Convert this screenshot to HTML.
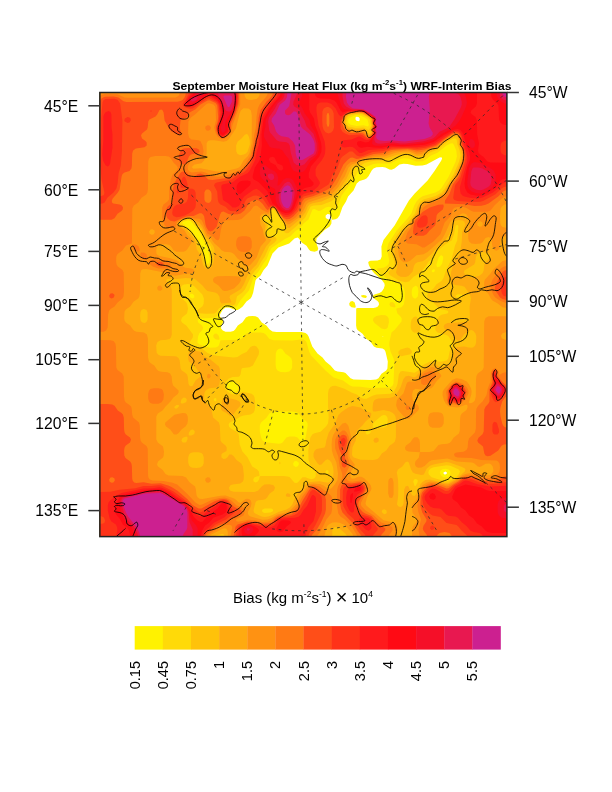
<!DOCTYPE html>
<html><head><meta charset="utf-8"><title>September Moisture Heat Flux WRF-Interim Bias</title>
<style>
html,body{margin:0;padding:0;background:#fff;}
body{width:612px;height:792px;overflow:hidden;}
svg{display:block;font-family:"Liberation Sans",sans-serif;fill:#000;}
</style></head><body>
<svg width="612" height="792" viewBox="0 0 612 792">
<rect width="612" height="792" fill="#fff"/>
<rect x="99.85" y="92.5" width="407.05" height="444.10" fill="#FF9212"/>
<defs><clipPath id="fc"><rect x="99.85" y="92.5" width="407.05" height="444.1"/></clipPath></defs>
<g clip-path="url(#fc)">
<rect x="90" y="85" width="430" height="460" fill="#fff"/>
<path fill="#FFF200" fill-rule="evenodd" d="M531.5,556.0L146.5,556.0L84.5,555.9L84.1,555.5L84.5,76.2L531.5,76.0L532.0,76.5L532.0,510.5L532.0,555.5L531.5,556.0ZM359.6,120.5L359.7,118.5L358.5,117.0L356.5,116.8L355.5,117.5L355.5,119.5L356.5,120.8L358.5,121.2L359.6,120.5ZM376.1,379.5L378.5,378.2L381.5,373.8L386.2,370.5L387.4,368.5L387.8,361.5L385.5,351.7L384.5,349.8L382.5,348.5L376.5,347.7L373.9,346.5L370.5,341.8L365.8,338.5L362.5,333.8L357.5,330.1L356.6,328.5L356.1,325.5L356.2,308.5L357.5,308.0L373.5,307.9L375.9,307.5L377.9,306.5L379.0,304.5L378.7,302.5L377.5,301.0L373.9,298.5L372.8,296.5L373.2,295.5L374.5,294.5L379.5,292.9L381.8,291.5L383.8,288.5L384.7,285.5L384.4,283.5L381.5,279.4L374.5,273.5L371.9,270.5L369.0,265.5L368.2,262.5L368.8,261.5L370.5,260.7L377.5,260.6L380.5,259.5L381.7,256.5L381.4,246.5L383.5,240.1L394.6,225.5L408.9,200.5L414.7,193.5L427.6,180.5L434.5,171.1L441.3,160.5L442.1,158.5L441.5,157.2L439.5,157.5L426.5,164.4L422.5,165.6L415.5,165.7L407.5,163.9L403.5,163.7L399.5,164.6L394.5,168.6L391.5,169.8L389.5,169.5L385.4,167.5L382.5,167.0L376.5,167.2L373.5,168.5L371.7,170.5L368.5,176.2L366.5,178.4L364.5,179.5L359.5,180.9L356.7,183.5L353.5,190.4L348.1,196.5L346.0,201.5L342.5,207.1L339.5,215.6L337.5,218.3L335.5,219.3L332.5,219.8L331.7,219.5L331.1,216.5L329.5,214.3L327.5,213.9L325.7,215.5L325.6,217.5L326.5,218.6L328.5,219.5L331.5,219.8L331.4,223.5L329.7,226.5L324.5,229.9L316.5,238.5L316.2,242.5L318.2,248.5L317.5,250.7L314.5,251.8L310.5,250.9L308.9,249.5L306.5,245.8L301.7,242.5L298.9,238.5L297.5,237.6L294.5,238.4L289.2,243.5L278.3,247.5L272.5,253.5L267.5,265.6L263.5,270.3L260.6,275.5L256.5,279.0L255.5,280.5L253.2,292.5L251.8,296.5L250.5,298.5L246.5,301.6L242.7,306.5L239.5,309.0L237.5,309.9L235.5,310.0L229.1,307.5L225.5,307.5L222.5,309.9L220.0,314.5L219.8,316.5L222.5,319.0L223.3,321.5L221.2,326.5L221.1,328.5L222.8,330.5L225.5,331.7L230.5,331.8L233.5,330.9L235.1,329.5L237.8,325.5L242.5,322.2L245.9,317.5L248.5,316.3L252.5,316.0L255.5,316.3L258.1,317.5L261.8,322.5L266.4,325.5L269.6,329.5L272.5,331.4L276.5,331.9L301.5,332.0L305.5,332.9L307.4,334.5L308.6,336.5L312.3,346.5L317.5,353.4L322.5,357.4L325.6,361.5L330.5,365.4L334.8,370.5L337.5,371.6L343.5,372.2L345.5,372.9L350.5,378.3L353.5,379.6L370.5,380.0L376.1,379.5ZM365.5,297.9L362.8,297.5L361.3,296.5L361.0,295.5L363.5,295.0L366.0,295.5L366.9,296.5L366.4,297.5L365.5,297.9ZM354.5,307.7L351.5,307.2L349.5,305.6L349.2,303.5L350.5,301.5L352.5,301.1L354.7,302.5L355.7,306.5L355.5,307.4L354.5,307.7ZM383.6,336.5L382.5,336.4L382.5,337.1L383.6,336.5ZM446.9,473.5L446.9,472.5L445.5,471.6L443.5,472.5L443.5,473.5L444.5,474.4L445.5,474.5L446.9,473.5Z"/>
<path fill="#FFDA08" fill-rule="evenodd" d="M531.5,555.9L219.5,555.6L146.5,556.0L84.5,555.9L84.1,555.5L84.5,76.3L531.5,76.0L532.0,76.5L532.0,510.5L531.9,555.5L531.5,555.9ZM367.6,126.5L368.5,126.0L368.8,124.5L367.5,119.5L364.7,117.5L360.0,115.5L357.5,115.1L354.9,115.5L350.1,117.5L348.3,119.5L348.2,122.5L350.5,124.7L356.5,126.0L363.5,125.3L367.6,126.5ZM390.0,387.5L392.5,385.8L393.5,383.5L394.3,362.5L393.6,358.5L390.5,351.5L389.3,345.5L389.3,342.5L391.5,332.6L395.0,329.5L401.5,321.5L401.7,318.5L400.5,316.6L397.4,313.5L396.4,309.5L396.5,308.5L401.5,307.2L403.8,304.5L404.8,298.5L404.9,292.5L403.9,288.5L402.4,286.5L398.1,283.5L386.5,278.2L378.1,271.5L377.1,269.5L377.3,268.5L383.5,267.8L386.5,266.3L388.5,264.3L389.3,260.5L387.0,249.5L388.4,243.5L396.7,230.5L407.5,218.6L411.4,213.5L414.2,205.5L416.5,201.5L419.5,198.3L422.5,196.3L435.5,192.6L439.1,190.5L441.5,187.9L448.5,177.0L455.5,162.0L456.9,156.5L456.3,150.5L453.7,144.5L452.5,143.3L450.5,143.4L446.5,145.5L437.5,152.7L430.9,155.5L425.5,159.7L422.5,161.2L416.5,161.6L408.5,158.5L403.5,158.3L398.2,159.5L390.5,163.5L377.5,163.5L373.5,164.0L359.1,169.5L354.8,177.5L341.5,195.7L336.5,208.8L334.5,209.5L330.5,207.1L328.5,206.7L325.7,207.5L320.5,210.8L318.5,210.9L314.5,209.1L312.5,209.5L308.5,219.5L303.5,223.5L299.6,228.5L295.5,231.1L290.5,236.2L284.5,239.3L271.5,248.0L269.5,251.6L266.5,259.5L263.5,263.3L258.5,271.6L253.4,277.5L249.0,290.5L240.5,300.2L236.7,306.5L234.5,307.1L228.5,305.6L224.5,306.0L220.3,309.5L216.6,316.5L215.5,317.3L211.5,318.0L200.5,318.5L198.5,319.2L197.6,320.5L198.2,322.5L202.0,325.5L203.0,327.5L202.7,329.5L199.2,333.5L198.1,336.5L197.4,342.5L199.5,344.5L209.5,347.7L215.5,347.6L217.5,346.8L218.8,345.5L220.5,340.2L239.5,339.8L242.5,338.0L246.3,333.5L250.5,332.4L260.5,332.5L263.5,333.1L265.8,334.5L269.5,338.9L273.5,340.3L292.5,340.4L300.5,339.4L303.5,339.5L305.5,340.8L306.5,342.3L309.1,351.5L311.1,355.5L325.5,370.6L333.5,377.5L343.1,380.5L349.5,385.2L352.5,386.4L360.5,386.8L369.5,388.1L390.0,387.5ZM208.6,263.5L209.5,262.1L209.8,259.5L207.9,249.5L199.7,232.5L191.2,221.5L188.5,220.3L183.9,221.5L182.5,222.5L182.4,223.5L190.4,229.5L198.8,240.5L204.1,252.5L206.5,262.8L207.5,263.8L208.6,263.5ZM440.1,266.5L442.2,263.5L443.2,258.5L443.1,256.5L441.5,255.3L440.5,255.5L438.7,257.5L436.4,264.5L436.7,266.5L437.5,267.2L440.1,266.5ZM434.6,271.5L434.9,270.5L434.5,269.3L432.8,269.5L431.9,270.5L431.8,271.5L432.5,272.3L433.5,272.3L434.6,271.5ZM415.7,298.5L417.8,296.5L418.4,291.5L417.8,287.5L416.5,286.0L415.5,285.8L412.9,287.5L412.0,289.5L411.7,292.5L412.0,295.5L413.0,297.5L414.5,298.6L415.7,298.5ZM192.7,298.5L194.2,297.5L194.3,295.5L192.5,293.7L190.5,293.8L189.5,295.4L189.7,296.5L190.5,297.7L192.7,298.5ZM394.5,307.6L390.5,306.4L389.4,304.5L390.0,302.5L392.5,302.1L394.5,303.5L395.6,306.5L394.5,307.6ZM386.5,328.8L384.5,329.2L381.5,328.6L374.5,323.0L373.0,320.5L373.3,318.5L374.1,317.5L376.5,316.1L381.5,315.0L385.5,315.3L387.5,316.4L388.7,318.5L388.9,322.5L387.7,327.5L386.5,328.8ZM218.5,339.7L215.5,339.2L213.5,337.6L213.2,335.5L214.5,333.7L216.5,333.6L218.6,335.5L219.5,338.5L219.2,339.5L218.5,339.7ZM289.2,371.5L291.3,369.5L292.1,367.5L292.2,361.5L291.4,358.5L289.5,356.5L285.5,353.7L282.5,349.5L280.5,348.6L278.5,348.9L276.8,350.5L275.8,353.5L275.6,364.5L276.2,368.5L277.5,370.6L280.5,372.1L285.5,372.3L289.2,371.5ZM236.8,391.5L238.5,388.5L237.6,385.5L235.5,383.0L233.5,381.7L231.5,381.4L229.5,382.0L227.5,383.6L226.6,385.5L227.5,387.4L233.5,391.6L235.5,392.0L236.8,391.5ZM280.7,443.5L282.6,442.5L286.4,437.5L289.5,436.6L294.5,436.6L297.5,437.4L301.5,441.9L303.5,442.0L304.5,441.0L306.0,435.5L307.7,425.5L307.6,423.5L306.5,421.4L302.3,418.5L299.5,414.5L297.5,412.6L295.5,411.9L291.5,411.6L275.5,411.6L271.5,412.2L269.3,413.5L266.5,417.8L261.0,422.5L259.8,425.5L259.8,431.5L261.1,437.5L262.5,440.6L265.5,442.3L278.5,443.7L280.7,443.5ZM297.5,466.5L298.9,464.5L298.6,462.5L296.5,460.9L294.5,461.3L293.1,463.5L293.5,465.5L295.5,466.9L297.5,466.5ZM447.3,477.5L449.0,476.5L450.3,474.5L450.5,472.5L449.9,470.5L448.5,469.4L445.5,468.8L442.5,469.3L440.6,470.5L439.8,472.5L441.0,475.5L443.5,477.3L447.3,477.5Z"/>
<path fill="#FFC20A" fill-rule="evenodd" d="M531.5,555.8L219.5,555.5L146.5,556.0L84.2,555.5L84.5,76.3L531.5,76.0L532.0,76.5L531.9,510.5L531.5,555.8ZM369.0,129.5L370.5,127.2L370.9,125.5L370.0,119.5L368.0,117.5L364.6,115.5L361.5,114.3L355.5,114.1L349.5,115.5L348.0,116.5L346.6,118.5L346.0,122.5L347.5,125.4L348.9,126.5L355.5,128.0L363.5,127.4L368.5,129.9L369.0,129.5ZM297.8,482.5L302.5,477.3L305.5,477.2L308.5,478.6L311.5,479.2L314.3,478.5L315.7,476.5L315.8,473.5L315.3,471.5L310.3,465.5L308.5,459.5L308.3,450.5L309.5,441.4L310.5,437.2L312.5,434.3L314.5,433.2L320.5,431.8L326.0,426.5L328.0,423.5L328.7,417.5L328.0,405.5L328.0,393.5L328.7,389.5L330.5,387.0L332.5,386.0L335.5,385.8L344.5,388.8L351.5,392.6L356.8,394.5L360.5,397.6L363.5,398.8L366.5,398.7L372.5,395.8L376.5,394.6L390.5,393.7L393.5,392.0L396.7,386.5L397.6,383.5L398.8,374.5L400.5,371.4L402.5,371.1L414.5,372.7L417.5,370.9L422.2,365.5L429.5,361.7L433.5,360.8L439.5,361.7L442.5,361.6L446.5,360.5L448.3,358.5L449.6,351.5L452.2,345.5L451.9,341.5L448.5,336.2L446.5,335.1L437.5,332.5L435.6,330.5L435.2,328.5L437.5,319.4L439.0,316.5L441.5,314.7L447.3,313.5L448.3,312.5L448.3,311.5L447.3,310.5L441.5,309.4L438.5,308.0L433.5,302.8L428.5,299.6L427.4,297.5L427.2,295.5L428.5,292.4L433.5,288.6L436.5,284.3L441.5,281.1L443.5,277.9L446.0,270.5L451.8,258.5L455.0,245.5L457.2,240.5L458.4,226.5L458.1,225.5L457.5,225.0L456.5,225.1L455.5,226.4L454.0,234.5L451.7,240.5L445.5,244.2L438.5,250.1L436.2,252.5L433.0,257.5L428.5,261.7L425.5,266.5L421.3,271.5L419.1,273.5L413.5,276.7L409.1,281.5L405.5,282.3L398.7,280.5L390.4,275.5L388.7,273.5L388.6,272.5L389.9,270.5L393.4,267.5L394.5,265.3L394.5,261.5L391.1,252.5L390.6,249.5L391.5,245.5L396.1,236.5L400.4,230.5L408.5,221.8L414.9,213.5L417.8,205.5L420.4,201.5L423.5,199.4L435.5,196.1L441.5,192.5L444.5,189.0L453.5,174.4L459.1,161.5L460.5,155.5L459.5,149.9L457.3,144.5L456.7,139.5L455.5,138.2L453.1,138.5L447.7,141.5L437.5,149.8L429.5,152.8L424.5,157.0L422.5,158.0L416.5,158.5L413.5,157.7L408.5,155.3L404.5,155.2L398.3,156.5L386.5,160.8L377.5,160.6L369.5,161.6L364.5,163.1L361.0,165.5L356.1,167.5L353.5,170.0L349.6,178.5L345.8,184.5L339.1,193.5L334.5,198.8L330.7,201.5L321.5,205.1L313.5,205.4L310.6,206.5L305.1,217.5L297.5,225.2L288.5,232.9L286.5,233.2L284.5,232.2L284.2,230.5L285.2,227.5L283.5,223.5L274.5,210.0L273.5,209.2L272.5,209.2L271.5,210.5L271.1,216.5L270.5,217.9L269.5,218.1L265.5,215.9L263.8,216.5L263.3,218.5L268.0,225.5L267.7,227.5L266.0,231.5L266.1,233.5L267.0,235.5L268.5,236.6L275.5,237.2L276.5,238.5L276.3,240.5L274.6,242.5L269.2,246.5L264.9,256.5L261.3,261.5L258.5,266.8L254.3,271.5L251.5,275.5L244.9,289.5L242.5,292.2L236.9,296.5L235.5,303.2L234.5,304.8L232.5,305.3L226.5,304.5L223.5,305.2L218.9,308.5L216.5,312.0L214.5,313.5L205.5,313.8L199.5,313.2L198.1,312.5L197.6,310.5L198.5,309.2L202.5,306.2L203.7,303.5L203.9,298.5L202.4,294.5L194.5,286.4L191.5,284.6L187.5,284.1L184.0,284.5L182.0,285.5L180.6,287.5L180.1,291.5L180.5,296.5L181.7,298.5L185.5,301.6L187.0,303.5L188.0,308.5L187.0,313.5L182.0,317.5L181.0,320.5L182.0,322.5L186.5,325.8L193.0,334.5L192.8,337.5L189.4,342.5L189.5,343.8L190.5,345.1L193.7,346.5L202.5,349.0L207.5,353.1L210.5,354.3L216.5,355.8L233.5,357.4L237.5,357.1L241.5,354.2L246.5,351.9L250.5,347.1L252.5,345.9L254.5,345.7L256.5,346.5L258.6,349.5L259.1,351.5L258.7,354.5L252.9,365.5L249.5,367.3L242.5,367.9L241.5,368.9L240.5,374.5L239.5,376.3L238.5,376.8L232.5,377.1L228.5,378.8L225.5,382.1L224.2,385.5L224.5,387.5L225.5,389.2L228.6,392.5L231.5,394.3L236.5,394.7L242.5,391.8L251.5,393.8L253.5,395.3L254.5,397.3L255.1,401.5L255.0,407.5L254.6,410.5L253.5,412.7L250.5,414.6L243.5,415.6L240.5,416.6L235.5,419.8L229.7,422.5L228.6,424.5L229.0,426.5L230.5,428.3L237.8,432.5L238.7,434.5L239.7,444.5L242.4,451.5L247.5,457.3L252.2,466.5L257.1,469.5L258.9,471.5L259.5,475.9L256.5,476.4L254.3,477.5L253.2,479.5L253.6,481.5L255.5,482.6L257.5,481.8L259.1,479.5L259.7,476.5L260.5,476.1L283.5,476.0L287.5,476.4L289.5,477.1L294.5,482.7L296.5,483.0L297.8,482.5ZM207.8,266.5L209.8,265.5L211.7,261.5L211.4,249.5L210.7,246.5L205.5,240.0L200.5,229.9L193.2,221.5L190.5,219.7L188.5,219.1L183.2,220.5L180.5,222.5L179.8,223.5L180.0,224.5L184.5,226.6L188.3,229.5L196.1,239.5L202.5,253.8L204.7,263.5L205.8,265.5L207.8,266.5ZM461.8,297.5L462.9,296.5L462.9,295.5L461.5,294.5L457.5,294.3L455.7,295.5L455.7,296.5L456.8,297.5L459.5,297.9L461.8,297.5ZM417.5,332.7L414.5,332.7L412.5,331.6L411.2,329.5L410.7,327.5L410.8,322.5L411.5,319.7L413.5,317.2L415.5,316.4L416.5,316.7L418.0,318.5L420.7,327.5L420.3,330.5L419.5,331.6L417.5,332.7ZM404.5,355.5L401.5,356.2L399.7,355.5L398.4,353.5L398.5,351.4L400.5,349.5L405.5,347.9L407.5,347.6L409.5,348.3L411.5,350.5L411.9,352.5L411.5,353.2L409.5,354.4L404.5,355.5ZM216.5,400.5L216.3,398.5L215.5,397.9L214.1,398.5L213.7,399.5L214.5,401.1L215.5,401.4L216.5,400.5ZM384.1,427.5L386.0,426.5L387.4,424.5L387.8,419.5L387.4,417.5L386.5,416.0L385.5,415.3L383.5,415.0L381.5,415.8L374.5,421.8L373.2,423.5L372.5,426.5L372.8,427.5L374.5,427.8L384.1,427.5ZM367.8,434.5L369.5,433.8L370.6,432.5L371.4,429.5L370.5,428.7L367.5,429.4L365.6,431.5L365.8,433.5L366.5,434.2L367.8,434.5ZM280.5,463.8L279.5,464.2L279.2,463.5L279.5,461.4L280.4,462.5L280.5,463.8ZM448.5,481.5L456.5,476.7L458.7,474.5L460.1,471.5L458.8,469.5L450.5,465.8L446.5,465.2L433.5,467.2L430.5,468.6L428.8,470.5L428.3,472.5L428.8,474.5L431.5,477.2L445.3,481.5L448.5,481.5ZM328.0,473.5L328.6,472.5L328.5,471.1L327.5,470.1L326.5,470.3L325.5,471.5L325.5,472.9L326.5,474.0L328.0,473.5ZM415.9,485.5L417.5,482.6L417.8,480.5L417.1,479.5L415.5,479.1L414.1,479.5L413.2,481.5L414.5,485.7L415.5,486.1L415.9,485.5ZM270.5,512.5L272.5,511.5L273.1,510.5L273.0,509.5L271.3,508.5L264.5,508.5L262.5,509.5L262.0,510.5L262.5,512.0L264.5,513.1L270.5,512.5Z"/>
<path fill="#FFAA10" fill-rule="evenodd" d="M531.5,555.8L347.9,555.5L347.9,540.5L347.4,536.5L345.3,533.5L338.5,527.8L336.5,527.0L334.5,527.3L333.5,528.1L332.3,530.5L332.0,555.5L224.9,555.5L224.8,537.5L223.8,534.5L222.5,533.8L216.0,535.5L214.2,536.5L212.7,538.5L212.2,541.5L212.2,555.5L148.5,555.9L84.2,555.5L84.5,76.4L531.5,76.1L531.9,76.5L531.5,555.8ZM370.6,133.5L371.1,132.5L370.7,129.5L372.0,125.5L371.2,119.5L369.5,117.5L362.6,113.5L358.5,113.0L349.5,114.3L346.4,116.5L344.6,121.5L345.5,124.4L347.6,127.5L349.5,128.4L355.5,129.5L363.5,128.9L366.2,130.5L368.5,133.8L369.5,134.1L370.6,133.5ZM243.8,154.5L245.9,153.5L247.5,151.8L249.9,144.5L249.8,140.5L248.8,136.5L247.5,134.2L246.5,133.9L244.5,135.0L241.5,138.4L237.7,141.5L236.1,145.5L236.3,151.5L237.5,154.0L240.5,155.2L243.8,154.5ZM268.3,516.5L272.5,515.1L278.5,512.0L286.5,509.5L289.8,507.5L292.4,504.5L294.4,499.5L298.2,492.5L302.7,488.5L305.5,484.5L307.5,482.9L310.5,482.1L319.5,481.3L327.5,482.7L329.5,482.2L331.2,480.5L333.0,476.5L333.6,472.5L333.1,467.5L331.4,462.5L329.5,460.2L327.5,459.3L325.5,460.2L321.5,464.5L319.5,465.0L317.5,463.3L314.3,458.5L313.5,456.5L313.5,453.5L314.5,450.9L316.5,449.0L324.5,447.5L325.5,445.5L326.3,440.5L328.8,432.5L334.6,424.5L338.5,415.0L341.5,411.9L348.5,407.2L352.5,406.1L360.5,407.5L365.5,411.2L370.2,412.5L371.3,413.5L371.1,415.5L370.1,417.5L365.5,421.4L362.4,425.5L357.0,430.5L356.3,432.5L355.7,440.5L352.4,447.5L352.0,454.5L352.5,456.1L353.8,457.5L360.5,459.7L373.5,459.9L377.5,459.0L379.1,457.5L381.8,453.5L386.2,450.5L389.5,445.8L393.5,443.1L394.9,441.5L395.9,437.5L396.0,419.5L395.5,416.5L394.4,414.5L392.5,412.7L389.5,411.2L383.5,410.1L375.5,411.5L373.5,411.4L372.7,410.5L372.6,407.5L373.2,402.5L374.2,400.5L375.5,399.4L378.4,398.5L389.5,398.0L393.5,396.8L396.5,394.1L400.5,387.5L403.2,379.5L405.4,376.5L408.5,375.7L413.5,377.2L415.5,377.0L421.5,370.1L429.5,364.6L432.5,364.0L434.5,364.3L439.5,367.1L441.5,367.4L449.5,364.1L451.4,362.5L452.4,360.5L454.1,350.5L455.5,348.4L457.5,347.0L464.5,346.5L468.5,347.6L471.5,347.8L473.5,347.2L475.2,345.5L476.1,342.5L476.3,336.5L475.5,333.4L473.5,330.9L471.5,330.1L469.5,330.6L464.0,334.5L460.5,339.7L459.5,340.4L457.5,340.5L454.5,338.0L451.5,332.8L445.4,329.5L444.3,328.5L443.7,326.5L444.5,324.5L447.5,322.9L467.5,321.9L468.6,321.5L469.9,319.5L469.6,306.5L471.0,298.5L470.1,294.5L464.5,286.8L461.5,285.7L455.5,285.1L452.5,283.7L451.1,281.5L450.6,278.5L451.0,272.5L453.6,263.5L455.5,259.9L459.2,255.5L459.9,253.5L461.8,241.5L462.2,232.5L465.2,224.5L464.3,221.5L462.5,220.4L458.5,220.1L455.5,220.8L453.5,222.3L452.3,224.5L449.1,234.5L444.2,241.5L437.5,247.0L431.5,253.9L425.5,259.5L422.5,261.2L417.5,262.3L415.4,263.5L414.1,265.5L412.6,271.5L408.5,276.0L405.5,277.1L400.5,276.7L397.5,274.9L396.0,272.5L397.3,266.5L397.4,263.5L394.9,254.5L394.4,249.5L395.8,242.5L397.5,238.3L403.0,230.5L408.5,224.7L412.7,218.5L416.9,213.5L419.4,206.5L421.1,203.5L424.5,201.2L436.5,197.7L443.5,193.0L453.7,177.5L457.5,169.9L461.2,160.5L462.1,154.5L461.0,149.5L458.9,144.5L458.6,138.5L456.5,136.0L453.2,136.5L445.5,141.3L437.5,148.1L428.5,151.4L423.5,155.2L421.5,156.1L415.5,156.3L409.5,153.3L405.5,152.8L397.5,154.4L385.5,158.4L375.5,158.8L361.3,161.5L357.8,164.5L353.5,166.1L351.5,167.6L346.7,178.5L339.5,189.2L335.5,193.8L331.5,197.0L321.5,201.5L312.5,203.3L309.5,204.5L307.8,206.5L305.5,211.9L300.7,218.5L289.5,228.0L287.5,227.8L274.5,208.9L273.5,208.3L272.0,208.5L270.7,210.5L269.5,215.9L268.5,216.0L266.5,215.0L264.5,214.7L262.5,216.0L261.8,217.5L262.6,220.5L265.6,225.5L264.7,232.5L265.6,235.5L266.5,237.0L271.1,239.5L271.2,240.5L266.1,246.5L256.6,264.5L251.7,269.5L247.5,275.5L244.2,283.5L241.5,288.2L239.5,290.0L230.1,295.5L229.5,297.5L231.3,301.5L231.1,302.5L221.5,303.5L220.2,301.5L219.4,296.5L217.5,293.8L215.1,292.5L207.5,291.0L205.5,289.3L202.5,285.4L195.5,279.6L193.5,278.5L185.5,278.0L176.5,278.9L168.5,278.7L166.4,279.5L166.3,281.5L170.5,285.7L171.8,289.5L171.8,334.5L170.9,337.5L169.5,338.9L166.5,339.8L160.5,340.3L157.5,342.0L156.2,345.5L156.6,352.5L158.0,354.5L160.5,355.7L174.5,356.2L176.5,356.6L178.5,357.9L179.7,360.5L180.6,368.5L181.8,370.5L185.5,372.9L187.0,374.5L187.7,376.5L188.5,383.8L189.3,385.5L190.5,386.3L192.5,386.0L195.5,380.5L200.5,376.5L200.8,374.5L194.5,365.8L189.0,361.5L188.3,359.5L188.1,355.5L188.5,353.0L189.5,351.5L191.5,350.6L193.5,350.5L199.6,351.5L201.1,352.5L204.5,356.5L210.4,359.5L218.9,366.5L219.7,368.5L220.0,372.5L219.9,380.5L219.3,384.5L218.0,386.5L216.5,387.4L209.5,388.3L206.5,389.7L205.0,391.5L204.3,393.5L204.1,398.5L205.5,402.3L211.0,407.5L213.1,417.5L218.9,422.5L219.8,425.5L220.5,440.5L221.7,442.5L225.6,445.5L226.7,447.5L226.5,450.9L222.5,453.2L221.4,454.5L221.4,457.5L223.5,459.0L225.5,458.8L227.3,457.5L229.3,454.5L231.5,454.4L233.5,456.0L236.5,460.1L241.3,463.5L242.9,466.5L243.9,475.5L243.6,479.5L242.9,481.5L240.3,483.5L232.5,484.4L230.5,485.2L229.0,487.5L229.4,489.5L230.5,490.7L233.5,491.7L254.5,491.9L258.3,490.5L261.7,486.5L264.5,484.6L269.5,484.2L273.5,485.2L275.0,487.5L274.0,490.5L269.7,493.5L267.1,497.5L265.5,498.9L263.5,499.7L258.5,500.2L256.5,501.1L255.5,502.6L253.5,510.5L254.0,512.5L255.2,513.5L261.5,516.5L264.5,517.1L268.3,516.5ZM209.1,268.5L211.8,266.5L213.8,261.5L214.5,250.5L214.0,247.5L212.9,245.5L209.5,240.8L205.5,236.9L201.5,228.2L193.5,220.5L190.5,218.8L188.5,218.3L182.5,220.0L179.2,222.5L178.5,223.5L178.5,224.6L179.5,225.7L183.5,227.3L186.4,229.5L193.5,238.0L195.3,241.5L196.8,249.5L200.5,254.9L203.3,265.5L205.5,268.3L207.5,268.9L209.1,268.5ZM473.0,277.5L479.5,275.7L482.5,273.2L483.7,270.5L484.3,264.5L485.0,262.5L490.6,257.5L490.5,255.5L488.5,253.2L486.5,252.4L482.5,252.1L479.5,252.6L477.8,253.5L476.0,256.5L475.1,262.5L474.1,264.5L464.4,270.5L463.7,272.5L465.4,274.5L469.5,277.1L473.0,277.5ZM145.7,322.5L146.8,321.5L147.6,319.5L147.6,312.5L146.5,310.1L145.5,309.4L143.5,309.0L141.5,310.1L140.5,312.1L140.1,315.5L140.4,319.5L141.2,321.5L142.5,322.6L144.5,322.9L145.7,322.5ZM182.8,403.5L185.5,402.6L186.5,401.5L186.8,399.5L185.5,397.7L183.5,397.6L181.4,399.5L180.6,402.5L181.5,403.5L182.8,403.5ZM231.5,415.8L229.5,415.5L226.5,413.1L222.5,410.9L221.2,409.5L220.9,406.5L222.2,400.5L223.0,398.5L224.5,397.4L226.5,397.4L236.5,400.1L239.3,401.5L240.1,402.5L240.5,404.5L239.7,406.5L236.5,409.9L233.4,414.5L231.5,415.8ZM177.0,408.5L178.9,406.5L179.0,405.5L178.5,404.9L176.5,405.1L174.6,406.5L174.3,407.5L175.1,408.5L177.0,408.5ZM191.2,435.5L193.5,434.6L194.5,433.5L194.8,431.5L193.5,429.7L192.1,429.5L190.5,430.2L188.9,432.5L188.6,434.5L189.2,435.5L191.2,435.5ZM185.6,442.5L186.6,441.5L187.5,439.5L187.5,437.2L186.5,436.6L183.3,437.5L182.2,438.5L181.4,440.5L182.6,442.5L185.6,442.5ZM376.5,442.8L374.5,442.4L373.4,440.5L374.3,438.5L376.5,437.4L378.4,438.5L378.8,440.5L378.5,441.5L376.5,442.8ZM200.2,467.5L202.5,466.1L203.7,463.5L203.8,457.5L202.9,454.5L201.5,453.1L198.5,452.2L193.5,452.2L190.5,453.1L189.1,454.5L188.2,457.5L188.2,462.5L189.1,465.5L190.5,466.9L192.5,467.7L196.5,468.0L200.2,467.5ZM401.7,506.5L402.8,505.5L403.6,503.5L404.2,489.5L405.5,486.4L407.5,485.8L408.5,486.5L411.6,494.5L412.5,495.6L414.5,495.9L416.5,493.4L420.5,484.2L422.5,482.0L425.5,479.9L429.5,479.5L445.5,483.2L448.5,483.2L457.5,477.9L464.7,471.5L465.5,469.5L464.5,468.2L461.5,466.8L449.5,462.4L446.5,462.1L434.5,464.2L430.5,465.6L426.8,468.5L423.8,474.5L421.5,475.0L415.5,473.8L412.9,472.5L411.1,469.5L408.8,462.5L407.5,461.5L405.5,462.2L402.3,466.5L397.9,469.5L396.8,472.5L398.0,479.5L398.3,488.5L398.1,496.5L397.0,504.5L398.5,506.6L400.5,506.9L401.7,506.5ZM289.5,496.9L286.4,496.5L285.8,495.5L286.5,493.8L287.5,493.3L289.5,493.7L290.6,495.5L289.5,496.9ZM386.3,513.5L386.8,512.5L386.5,510.5L384.5,509.2L382.5,509.7L381.7,511.5L382.5,513.1L384.5,514.3L386.3,513.5Z"/>
<path fill="#FF9212" fill-rule="evenodd" d="M395.5,555.5L354.0,555.5L353.9,538.5L352.5,533.9L347.2,527.5L343.8,524.5L339.5,522.7L335.5,522.2L332.5,522.6L329.5,523.9L327.7,525.5L326.5,527.6L324.1,537.5L324.0,555.5L228.0,555.5L227.8,531.5L226.5,528.7L224.5,528.2L222.5,528.8L211.4,534.5L209.0,536.5L208.1,540.5L208.1,555.5L148.5,555.9L84.3,555.5L84.5,76.5L224.5,76.1L244.2,76.5L244.3,92.5L244.8,96.5L246.5,98.9L248.5,99.7L251.5,100.0L256.5,98.9L258.2,97.5L259.4,95.5L259.9,91.5L260.0,76.5L365.5,76.1L531.5,76.1L531.9,76.5L531.5,204.0L508.5,204.1L504.5,204.6L501.8,206.5L500.6,208.5L500.0,216.5L500.3,223.5L501.1,225.5L502.5,226.9L507.5,228.0L531.5,228.0L531.5,236.0L507.5,236.0L503.5,236.6L501.9,237.5L500.6,239.5L499.3,248.5L498.5,249.8L496.5,250.7L494.5,250.0L493.2,248.5L492.4,246.5L491.4,239.5L490.5,238.1L488.5,237.0L485.5,238.0L482.5,242.2L480.5,243.4L475.5,243.9L471.5,243.4L469.1,241.5L468.2,238.5L468.3,232.5L470.0,224.5L469.2,219.5L466.5,214.6L464.5,213.4L462.5,213.3L454.5,218.1L451.5,220.5L450.1,222.5L444.7,234.5L441.8,239.5L427.5,252.0L423.5,254.2L416.5,255.3L410.5,260.4L407.5,262.1L403.5,262.2L400.5,259.7L398.8,255.5L398.3,251.5L398.4,245.5L399.3,240.5L405.5,230.5L409.4,226.5L413.9,218.5L418.2,213.5L421.5,206.0L423.9,203.5L436.5,199.3L444.5,193.9L447.5,189.7L450.8,183.5L455.2,177.5L457.5,172.8L462.0,161.5L463.1,154.5L462.0,149.5L459.9,144.5L459.5,138.1L457.5,135.2L455.5,134.6L452.9,135.5L445.5,140.2L437.5,147.0L427.7,150.5L421.5,154.0L416.5,154.6L409.5,151.5L402.8,151.5L394.5,153.1L384.5,156.6L375.5,157.1L362.5,159.8L360.4,160.5L356.5,163.0L351.5,164.6L348.5,167.5L344.8,176.5L341.2,181.5L338.7,186.5L333.2,192.5L328.5,195.7L308.4,202.5L306.4,204.5L303.6,210.5L298.8,217.5L289.5,224.3L287.5,224.3L284.5,221.4L274.8,208.5L273.5,207.7L271.5,208.0L268.5,214.2L265.5,213.5L263.5,213.6L261.3,214.5L259.8,216.5L260.4,224.5L262.9,229.5L263.6,234.5L265.9,239.5L265.8,240.5L260.6,246.5L256.5,257.7L250.5,264.7L247.5,266.5L245.5,265.9L242.5,261.8L237.5,258.4L234.4,254.5L232.5,253.0L230.5,252.3L224.5,251.7L221.5,250.2L219.3,247.5L214.5,243.5L210.8,238.5L206.5,235.4L202.5,226.6L199.5,222.5L189.5,217.7L186.5,218.0L182.1,219.5L178.0,222.5L177.4,223.5L177.7,225.5L184.6,230.5L187.4,235.5L190.6,238.5L191.8,240.5L191.5,242.8L187.1,249.5L185.5,250.9L183.5,251.7L176.5,251.7L173.5,250.2L171.1,246.5L169.5,245.0L166.5,244.2L161.5,244.2L158.5,245.1L157.1,246.5L156.2,249.5L156.4,253.5L157.5,255.1L159.5,256.1L170.5,258.2L176.5,260.2L178.5,261.5L181.6,265.5L183.5,267.0L185.5,267.8L191.5,268.4L193.5,269.4L194.3,270.5L193.8,272.5L191.5,273.5L184.5,274.0L175.5,275.7L169.3,274.5L161.5,272.0L146.5,269.0L142.5,269.2L141.1,270.5L140.2,273.5L140.0,292.5L139.4,296.5L138.2,298.5L133.5,301.8L130.2,306.5L125.8,309.5L124.5,311.8L124.2,318.5L124.6,320.5L125.8,322.5L130.2,325.5L132.9,329.5L134.5,331.0L136.5,331.7L144.1,332.5L146.9,334.5L147.9,338.5L148.1,357.5L149.0,361.5L150.5,363.1L154.5,365.8L156.9,369.5L158.5,371.0L161.5,371.8L167.5,372.3L170.1,373.5L171.7,376.5L172.2,382.5L173.1,385.5L178.6,390.5L178.6,392.5L177.5,394.2L173.4,397.5L170.5,401.5L165.5,406.5L162.5,410.4L157.8,413.5L156.3,416.5L156.3,439.5L157.8,442.5L163.0,446.5L164.0,451.5L163.7,455.5L163.0,457.5L158.0,461.5L157.0,464.5L158.0,466.5L162.5,469.7L165.5,474.1L168.5,475.6L182.5,476.1L186.1,477.5L189.5,482.2L195.0,486.5L195.7,488.5L196.6,495.5L197.8,497.5L199.5,498.7L202.5,498.9L220.5,495.7L225.5,495.6L233.5,498.3L235.6,499.5L238.5,502.3L240.5,502.9L245.5,499.1L247.5,498.7L249.5,499.2L250.8,500.5L251.5,503.5L250.9,506.5L248.0,511.5L247.9,513.5L248.8,515.5L250.6,516.5L262.5,519.8L267.5,519.5L271.5,517.9L277.5,514.4L286.5,512.3L290.0,510.5L296.0,504.5L300.7,494.5L304.7,490.5L307.8,485.5L309.5,484.3L313.5,483.5L320.5,484.2L323.5,485.5L327.5,488.6L329.5,489.0L331.5,488.2L334.5,484.8L337.5,480.0L338.0,473.5L336.4,462.5L333.3,455.5L331.9,450.5L331.6,444.5L332.1,438.5L333.5,434.4L336.1,430.5L342.5,423.5L345.5,422.8L347.5,424.4L348.6,426.5L351.3,437.5L351.2,441.5L349.5,450.4L349.5,456.5L350.5,459.0L354.7,464.5L354.4,466.5L351.5,470.4L350.6,472.5L350.5,476.8L351.5,478.4L352.5,478.8L354.5,478.5L358.5,476.7L361.5,476.7L364.5,478.6L369.3,483.5L370.8,485.5L371.5,488.5L370.9,490.5L367.8,495.5L366.5,499.0L365.5,503.5L366.3,505.5L383.5,520.3L393.5,522.5L395.5,523.5L397.1,525.5L397.7,529.5L396.2,537.5L396.0,555.5L395.5,555.5ZM224.0,171.5L236.5,168.6L239.0,167.5L240.5,165.9L243.4,160.5L247.5,156.4L249.5,153.2L251.7,142.5L251.8,115.5L250.9,110.5L248.5,108.6L243.5,108.3L240.8,110.5L239.6,113.5L235.9,128.5L228.5,139.5L226.5,141.1L223.5,141.8L214.5,140.2L210.5,140.2L208.5,140.7L207.5,141.5L206.6,143.5L206.7,153.5L205.9,156.5L204.1,160.5L201.5,163.2L194.5,164.6L192.2,166.5L192.1,167.5L193.5,168.7L200.5,168.3L216.5,171.6L224.0,171.5ZM369.6,135.5L371.8,133.5L372.1,132.5L371.5,129.5L372.7,125.5L371.9,122.5L371.9,119.5L370.5,117.5L363.5,113.3L359.5,112.4L349.5,113.5L347.5,114.5L345.5,116.3L343.8,120.5L343.7,122.5L346.1,127.5L347.5,129.0L354.5,130.7L363.5,130.5L365.5,131.8L367.5,135.0L368.5,135.6L369.6,135.5ZM481.5,226.5L482.8,224.5L482.5,222.5L480.5,221.2L478.5,221.5L477.1,223.5L477.5,225.5L479.5,226.8L481.5,226.5ZM153.5,234.5L154.8,232.5L154.5,230.5L152.5,229.2L150.5,229.5L149.2,231.5L149.5,233.5L151.5,234.8L153.5,234.5ZM531.5,308.2L507.5,308.1L502.5,307.3L497.7,303.5L492.4,300.5L490.8,298.5L488.5,294.0L485.5,290.5L484.5,288.5L484.0,285.5L484.3,281.5L485.0,279.5L490.5,273.5L493.5,269.3L502.5,260.9L507.5,259.9L531.5,259.9L531.5,308.2ZM227.5,290.7L224.5,291.0L222.5,290.2L218.5,285.6L214.0,282.5L213.3,281.5L213.0,279.5L214.1,277.5L217.5,276.2L227.5,276.0L237.5,276.2L240.4,277.5L240.9,280.5L239.1,283.5L234.0,288.5L227.5,290.7ZM160.5,290.8L158.5,290.5L157.5,289.5L157.2,287.5L158.5,285.7L160.5,285.6L162.3,287.5L162.3,289.5L160.5,290.8ZM531.5,555.7L412.0,555.5L412.1,529.5L412.8,526.5L416.0,522.5L416.8,520.5L416.5,518.4L412.4,512.5L412.2,505.5L413.0,503.5L416.5,499.5L420.2,489.5L422.5,485.3L426.5,482.7L430.5,481.6L435.5,482.1L445.5,484.6L448.5,484.6L456.5,480.1L462.5,475.2L465.5,473.9L470.5,472.9L474.5,472.7L487.5,475.5L491.1,474.5L493.3,471.5L493.4,469.5L492.7,466.5L491.2,464.5L489.5,463.6L485.5,463.8L481.5,466.3L479.5,466.9L477.5,466.3L474.4,463.5L472.1,462.5L456.5,461.5L447.5,458.4L431.5,460.3L429.2,461.5L424.5,466.0L421.5,467.6L418.5,467.7L416.5,466.9L415.3,465.5L414.9,463.5L415.5,461.3L418.9,457.5L419.7,452.5L420.5,451.9L429.5,452.0L433.5,451.0L438.5,445.0L441.5,444.2L447.5,443.7L449.5,442.9L451.1,441.5L453.5,437.8L458.9,433.5L459.8,430.5L460.1,418.5L460.6,415.5L461.8,413.5L466.5,409.9L467.5,407.5L467.5,405.5L466.5,404.8L465.5,404.8L459.5,407.1L457.5,407.4L448.5,406.4L445.7,403.5L444.0,400.5L442.6,395.5L442.7,391.5L444.6,388.5L452.5,379.7L456.5,378.3L461.5,379.1L466.7,381.5L469.1,384.5L471.1,388.5L471.6,391.5L471.3,394.5L468.8,402.5L469.5,403.3L471.5,403.1L473.5,402.0L474.8,400.5L475.8,396.5L476.0,379.5L476.5,375.8L477.8,373.5L482.5,370.1L483.7,367.5L484.2,321.5L485.5,318.0L488.5,316.3L531.5,316.0L531.5,332.0L505.5,332.2L502.5,333.2L501.0,335.5L501.4,337.5L502.1,338.5L505.5,339.8L531.5,340.0L531.5,555.7ZM409.5,418.8L407.5,419.1L405.5,418.2L397.6,409.5L396.1,405.5L396.8,400.5L398.2,398.5L403.4,393.5L406.5,384.0L407.5,382.3L409.5,381.4L414.5,381.7L416.5,381.0L418.5,378.6L420.5,374.3L422.5,372.0L430.5,367.2L433.5,367.1L435.4,368.5L440.1,373.5L441.3,375.5L441.2,376.5L436.4,381.5L433.5,386.1L431.5,388.0L428.5,389.2L424.5,389.9L415.5,388.8L413.1,390.5L412.1,394.5L412.6,399.5L414.5,402.4L418.2,405.5L419.1,408.5L418.2,410.5L409.5,418.8ZM208.5,378.5L207.5,378.1L207.0,376.5L207.5,374.5L208.5,373.8L210.2,374.5L210.7,376.5L209.5,378.2L208.5,378.5ZM439.5,427.7L432.5,427.7L430.5,426.9L429.1,425.5L428.2,422.5L428.2,417.5L429.1,414.5L430.5,413.1L433.5,412.2L438.5,412.2L441.5,413.1L442.9,414.5L443.8,417.5L443.7,423.5L442.1,426.5L439.5,427.7ZM176.5,434.6L174.5,434.6L173.5,433.9L170.3,429.5L166.0,426.5L165.0,424.5L165.3,422.5L174.5,414.7L182.5,412.9L185.5,413.2L186.9,414.5L187.7,416.5L187.9,420.5L187.4,423.5L185.5,426.4L181.5,429.4L178.5,433.2L176.5,434.6ZM419.5,452.2L408.5,451.6L406.5,450.8L405.3,449.5L405.0,447.5L406.0,445.5L410.3,442.5L413.0,438.5L414.5,437.3L417.5,437.3L419.3,439.5L419.9,442.5L420.1,451.5L419.5,452.2ZM208.5,482.8L206.5,482.5L205.2,480.5L205.5,478.5L207.5,477.2L209.5,477.5L210.8,479.5L210.5,481.5L208.5,482.8ZM391.5,498.1L389.4,497.5L388.2,493.5L388.3,481.5L388.8,479.5L390.5,477.8L392.5,478.6L393.6,482.5L393.6,494.5L392.5,497.4L391.5,498.1Z"/>
<path fill="#FF7A14" fill-rule="evenodd" d="M103.5,331.7L84.5,332.0L84.5,100.0L94.5,99.8L96.5,99.0L101.5,95.0L104.5,94.1L108.5,93.9L117.5,94.2L124.5,97.4L127.5,97.8L175.5,97.6L178.5,96.1L179.7,93.5L179.9,76.5L240.2,76.5L240.2,104.5L232.5,124.9L231.1,132.5L226.5,137.4L224.5,138.9L221.5,139.1L217.7,136.5L215.8,133.5L214.2,127.5L216.0,120.5L215.7,109.5L215.2,106.5L213.5,104.5L209.5,103.3L207.5,103.6L205.9,104.5L195.0,114.5L190.9,117.5L188.4,121.5L188.1,133.5L189.1,137.5L191.5,139.4L198.5,140.3L200.5,141.3L202.5,145.5L203.6,151.5L202.9,154.5L200.5,157.0L193.5,158.4L191.5,159.6L187.6,166.5L187.9,169.5L189.5,171.4L191.5,172.6L201.5,171.4L205.3,172.5L213.5,176.3L218.5,176.8L226.5,175.5L241.0,169.5L242.9,167.5L250.0,156.5L252.7,146.5L254.3,134.5L255.7,128.5L256.6,116.5L257.8,108.5L259.6,104.5L266.4,96.5L267.7,93.5L267.9,76.5L531.8,76.5L531.5,196.0L508.5,196.1L504.5,196.8L501.9,198.5L494.4,205.5L490.5,210.4L487.5,211.7L473.5,211.8L471.5,211.1L466.5,208.0L463.5,207.1L457.5,207.1L454.5,207.8L452.7,209.5L451.4,214.5L450.5,216.2L444.6,222.5L440.5,234.0L433.4,241.5L424.5,247.5L422.5,247.5L416.5,244.2L407.5,243.4L405.4,241.5L405.4,238.5L407.4,232.5L411.1,227.5L414.4,219.5L418.8,214.5L423.5,207.2L427.5,204.5L438.5,200.0L444.5,195.8L447.3,192.5L452.0,183.5L457.1,176.5L462.9,161.5L463.9,155.5L462.8,149.5L460.7,144.5L460.4,138.5L458.5,134.9L456.5,133.7L454.5,133.9L452.5,134.8L444.5,140.0L436.5,146.6L421.5,151.9L416.5,152.5L411.0,150.5L407.5,150.0L395.5,151.0L391.5,151.8L384.5,154.7L374.5,155.6L361.5,159.0L355.5,161.4L350.5,162.2L346.8,165.5L336.8,184.5L331.5,190.3L327.1,193.5L308.5,199.6L305.5,201.2L303.9,203.5L301.6,209.5L298.5,214.2L295.6,217.5L291.5,220.3L289.5,221.3L287.5,221.5L284.5,220.0L279.5,214.3L275.5,208.5L273.5,207.2L271.1,207.5L268.5,211.9L267.5,212.4L261.6,209.5L257.5,206.1L255.5,205.6L253.5,206.6L250.5,210.7L241.5,219.1L237.5,220.0L226.5,220.3L223.9,221.5L222.5,223.7L220.7,230.5L219.5,238.5L218.5,240.0L217.5,240.3L215.9,239.5L213.0,236.5L207.4,233.5L202.4,221.5L201.5,220.1L199.5,218.8L194.5,218.5L188.5,216.9L183.5,218.2L181.5,219.0L176.7,222.5L175.5,227.3L174.5,227.8L168.5,227.7L166.5,227.0L164.8,225.5L163.1,221.5L162.2,217.5L162.2,207.5L163.5,204.5L167.5,201.5L169.0,199.5L169.2,189.5L170.8,179.5L172.7,174.5L177.5,169.5L177.9,167.5L176.6,165.5L173.4,162.5L170.5,157.8L168.5,156.6L165.5,156.1L155.5,156.0L150.5,157.1L149.1,158.5L148.2,161.5L148.0,188.5L147.4,192.5L146.2,194.5L141.5,197.8L138.2,202.5L133.8,205.5L132.3,208.5L131.9,243.5L126.0,245.5L122.3,250.5L117.5,253.9L116.3,256.5L116.1,261.5L116.6,264.5L117.8,266.5L122.5,269.9L123.7,272.5L124.0,291.5L123.5,296.4L122.4,298.5L117.6,302.5L114.5,306.4L110.5,308.9L109.1,310.5L108.1,314.5L107.7,327.5L106.1,330.5L103.5,331.7ZM369.5,136.5L371.5,134.9L372.7,132.5L372.0,129.5L373.3,125.5L372.4,122.5L372.6,119.5L371.2,117.5L363.5,112.7L359.5,112.0L349.5,113.0L345.3,115.5L343.3,119.5L342.8,122.5L344.9,127.5L346.5,129.6L348.5,130.9L352.5,131.8L363.5,132.1L367.5,136.4L369.5,136.5ZM208.5,130.8L206.5,130.5L205.2,128.5L205.5,126.5L207.5,125.2L209.5,125.5L210.9,127.5L210.5,129.5L208.5,130.8ZM247.5,251.7L243.5,251.9L240.5,251.4L238.5,250.2L237.1,248.5L236.1,245.5L236.2,241.5L237.1,238.5L238.5,237.1L241.5,236.2L246.5,236.2L249.5,237.1L250.9,238.5L251.8,241.5L251.7,247.5L250.0,250.5L247.5,251.7ZM138.5,251.6L135.5,251.2L133.5,249.8L132.5,247.5L132.4,244.5L135.5,244.5L138.5,246.2L139.5,248.5L139.6,250.5L138.5,251.6ZM146.5,259.6L143.5,259.2L141.5,257.8L140.4,254.5L140.9,252.5L144.5,252.8L146.5,254.3L147.6,258.5L146.5,259.6ZM165.5,268.6L158.5,268.6L152.7,266.5L149.1,263.5L148.6,260.5L154.5,259.4L159.5,259.2L163.5,259.9L167.3,261.5L170.2,263.5L171.4,266.5L170.5,267.7L165.5,268.6ZM531.5,302.8L505.5,302.7L500.5,301.1L495.3,297.5L493.5,295.0L490.9,289.5L490.7,284.5L492.6,279.5L500.8,268.5L503.5,266.7L506.5,266.1L531.5,266.0L531.5,302.8ZM176.5,270.7L175.5,271.3L174.5,270.9L173.6,269.5L175.5,269.4L176.5,270.7ZM315.5,555.5L230.5,555.5L230.7,536.5L232.2,527.5L231.5,525.4L229.5,524.8L224.5,525.2L221.5,526.2L207.5,534.9L206.3,538.5L206.2,555.5L84.5,555.6L84.5,340.0L110.5,340.2L113.5,341.1L115.4,343.5L116.0,347.5L116.3,367.5L117.5,370.1L122.2,373.5L123.7,376.5L124.0,396.5L124.6,400.5L125.8,402.5L129.5,404.9L131.0,406.5L131.7,408.5L132.2,414.5L133.1,417.5L139.0,422.5L139.8,425.5L140.1,437.5L140.6,440.5L141.8,442.5L146.5,445.9L147.7,448.5L148.1,475.5L148.4,477.5L149.7,479.5L152.5,480.6L163.5,480.9L172.5,482.8L177.2,484.5L186.9,493.5L195.4,502.5L199.5,504.9L201.5,504.7L212.5,499.8L219.5,498.1L224.5,497.6L228.5,498.7L231.4,500.5L236.6,505.5L243.1,507.5L244.2,508.5L244.6,512.5L243.5,515.4L237.5,518.4L236.3,519.5L236.0,520.5L236.5,521.2L238.5,521.7L248.5,519.7L254.5,520.3L262.5,521.9L267.5,521.8L271.5,520.4L275.5,517.0L278.5,515.4L289.5,513.2L291.5,512.0L297.5,506.3L302.4,496.5L306.3,491.5L309.5,486.3L311.5,485.3L313.5,485.0L319.5,486.5L329.8,494.5L331.6,496.5L332.2,499.5L332.1,509.5L331.2,513.5L326.5,519.3L321.1,530.5L316.8,536.5L316.1,540.5L316.1,555.5L315.5,555.5ZM531.5,555.7L420.0,555.5L419.9,538.5L418.5,529.5L421.1,519.5L418.2,511.5L417.5,505.5L420.1,493.5L422.5,488.7L424.3,486.5L427.5,484.3L431.5,483.1L438.5,484.1L446.5,486.4L448.5,486.2L457.5,480.9L462.5,476.7L466.5,475.3L472.5,475.2L482.5,477.9L490.5,478.1L493.5,477.2L496.5,475.5L498.5,473.5L499.5,471.5L500.0,467.5L499.5,463.6L498.2,461.5L496.5,460.5L481.5,459.9L471.5,457.9L457.5,457.5L454.9,456.5L454.0,454.5L454.5,453.5L456.3,452.5L463.5,451.8L466.5,450.1L467.7,447.5L468.1,441.5L469.0,438.5L474.9,432.5L475.9,428.5L476.0,412.5L476.5,408.5L478.4,405.5L482.5,401.5L486.5,395.2L487.8,388.5L490.5,381.5L490.8,372.5L492.5,369.5L494.5,368.2L496.5,368.8L498.2,370.5L499.5,375.0L502.5,373.0L505.5,372.2L531.5,372.0L531.5,555.7ZM426.5,384.7L423.5,385.1L421.2,383.5L421.0,380.5L421.8,376.5L423.0,374.5L424.5,373.3L430.5,370.9L432.5,370.9L435.5,373.8L436.1,375.5L435.7,377.5L432.5,381.0L426.5,384.7ZM459.5,405.1L457.5,405.3L453.5,404.3L449.5,405.0L447.8,403.5L446.7,400.5L446.8,396.5L446.2,392.5L446.6,390.5L451.5,383.9L455.5,381.6L458.5,381.9L463.5,384.0L466.9,387.5L468.4,390.5L468.4,393.5L466.1,398.5L459.5,405.1ZM158.5,403.7L152.5,403.7L150.5,402.9L149.1,401.5L148.2,398.5L148.2,393.5L149.1,390.5L150.5,389.1L153.5,388.2L158.5,388.2L161.5,389.1L162.9,390.5L163.9,394.5L163.4,399.5L161.5,402.2L158.5,403.7ZM409.5,409.5L407.5,410.1L406.4,409.5L405.5,407.5L406.5,405.8L407.6,405.5L409.6,406.5L410.1,408.5L409.5,409.5ZM387.5,555.5L357.9,555.5L357.8,539.5L356.6,534.5L351.8,526.5L345.0,519.5L340.5,516.5L338.3,513.5L336.8,504.5L337.1,490.5L338.0,486.5L342.1,478.5L342.4,475.5L341.9,472.5L339.6,466.5L338.3,456.5L335.2,448.5L335.0,442.5L335.4,439.5L336.7,436.5L339.5,433.1L342.5,430.6L344.5,430.5L346.5,432.3L348.5,435.9L349.3,439.5L347.3,455.5L349.9,464.5L349.4,466.5L345.9,473.5L345.7,476.5L346.2,478.5L347.8,480.5L349.7,481.5L352.5,481.8L360.5,480.5L363.5,481.7L365.5,483.5L367.3,486.5L367.4,489.5L361.1,502.5L360.8,504.5L361.5,506.2L365.5,510.5L373.9,515.5L381.3,522.5L389.9,525.5L392.6,527.5L392.5,530.5L389.5,534.5L388.3,537.5L388.0,555.5L387.5,555.5Z"/>
<path fill="#FF4E18" fill-rule="evenodd" d="M111.5,219.7L84.5,220.0L84.5,140.0L95.5,139.7L97.5,138.7L98.1,137.5L98.6,134.5L98.9,105.5L99.7,101.5L101.5,98.5L103.5,97.2L105.5,96.7L113.5,96.4L118.5,97.4L123.5,101.2L126.5,102.0L177.5,101.8L180.5,101.0L182.5,99.9L184.5,97.5L185.4,95.5L186.0,91.5L186.0,76.5L238.3,76.5L239.0,98.5L238.4,104.5L234.9,114.5L230.8,123.5L230.6,130.5L230.0,132.5L227.5,135.1L223.5,138.0L221.5,137.9L218.5,135.5L217.2,133.5L216.1,129.5L216.0,126.5L217.7,121.5L218.2,116.5L217.3,105.5L215.5,102.9L209.5,100.3L207.5,100.4L200.5,104.5L195.5,109.3L189.5,112.4L186.9,117.5L181.5,119.5L180.5,120.4L179.7,128.5L181.0,132.5L180.8,133.5L179.5,134.4L177.5,134.4L173.5,132.6L171.5,131.5L169.7,129.5L164.6,120.5L163.6,112.5L162.7,110.5L161.5,109.6L159.5,110.0L157.2,114.5L155.5,116.5L149.4,119.5L148.3,121.5L147.7,127.5L147.0,129.5L142.0,133.5L141.0,135.5L142.0,138.5L145.5,141.0L146.7,142.5L146.7,145.5L144.5,147.3L135.8,148.5L133.1,150.5L132.2,153.5L131.9,165.5L131.4,168.5L129.5,170.9L124.5,172.4L122.5,174.1L121.6,176.5L119.6,189.5L117.9,192.5L112.7,198.5L111.8,200.5L112.0,202.5L113.3,203.5L119.5,204.4L121.9,205.5L123.0,207.5L122.7,209.5L121.5,211.0L117.5,213.7L114.5,218.2L111.5,219.7ZM210.5,231.6L208.5,230.7L206.5,227.4L205.5,224.5L204.2,216.5L203.1,214.5L201.5,213.2L199.5,213.2L193.5,216.1L188.5,216.0L185.5,216.8L174.5,221.4L170.5,220.7L167.5,218.6L166.3,215.5L166.2,209.5L167.5,206.8L171.5,203.2L173.1,200.5L172.4,190.5L174.5,182.7L179.9,173.5L181.5,172.0L183.5,171.3L186.5,172.6L191.5,177.7L193.5,177.3L197.5,174.2L200.5,173.6L203.5,174.7L208.3,179.5L212.5,180.0L228.5,177.8L236.5,173.5L241.5,171.4L244.0,169.5L249.6,161.5L252.1,155.5L257.7,129.5L258.7,117.5L260.4,110.5L266.6,101.5L271.6,96.5L272.7,94.5L273.1,76.5L531.8,76.5L531.5,190.0L508.5,190.0L505.0,190.5L502.5,192.0L498.5,196.2L488.5,203.4L485.5,204.8L481.5,205.7L474.5,205.9L464.5,204.2L444.8,203.5L445.0,200.5L449.5,193.8L452.9,184.5L458.8,176.5L463.9,161.5L464.6,157.5L464.5,153.5L461.5,144.5L460.8,137.5L458.5,133.8L455.5,132.8L452.5,133.8L444.5,139.1L436.5,145.5L424.5,149.4L417.5,150.5L407.5,148.9L393.5,149.7L390.5,150.3L383.5,152.9L373.5,153.9L358.5,158.8L356.5,158.9L352.5,157.5L350.5,157.7L347.5,159.9L343.4,164.5L337.5,176.8L331.5,186.5L328.5,189.0L321.5,192.7L313.5,196.0L304.5,198.6L302.5,201.1L299.8,208.5L298.0,211.5L293.2,216.5L289.5,218.9L286.5,219.2L283.5,217.9L274.5,207.1L271.5,206.6L268.5,209.5L267.5,209.9L265.9,208.5L262.5,203.8L259.5,201.1L257.5,200.1L254.5,200.0L251.5,201.0L249.3,202.5L244.4,210.5L240.5,213.4L237.5,214.2L231.5,214.4L228.5,213.9L223.5,211.5L221.5,212.0L220.1,214.5L216.7,226.5L213.0,230.5L210.5,231.6ZM368.6,137.5L371.5,135.7L373.2,132.5L372.5,129.5L373.8,125.5L372.8,122.5L373.0,119.5L371.9,117.5L363.5,112.3L359.5,111.5L349.1,112.5L344.5,115.4L342.1,120.5L341.9,122.5L344.0,128.5L345.5,130.5L347.5,132.0L350.5,133.1L359.5,132.9L362.5,133.3L364.3,134.5L366.5,137.0L368.6,137.5ZM328.8,126.5L329.4,123.5L329.3,115.5L328.5,113.1L327.5,113.1L326.6,115.5L326.6,123.5L327.5,126.8L328.8,126.5ZM183.5,164.6L180.5,163.1L178.6,159.5L179.1,154.5L181.5,149.7L183.5,148.5L187.5,148.1L196.5,148.3L199.0,149.5L199.6,151.5L199.1,152.5L197.5,153.4L192.5,154.0L190.5,154.8L189.0,156.5L186.5,162.5L185.5,163.6L183.5,164.6ZM209.7,202.5L210.7,201.5L211.5,199.5L211.5,193.5L210.8,191.5L209.5,190.0L208.5,189.5L206.5,189.5L205.3,190.5L204.4,192.5L204.4,199.5L205.2,201.5L206.5,202.6L208.5,203.0L209.7,202.5ZM423.5,235.7L416.5,235.7L414.5,234.9L413.3,233.5L413.0,231.5L413.7,225.5L415.5,219.9L422.5,211.9L429.8,207.5L438.5,204.8L443.0,204.5L443.5,204.9L443.7,206.5L442.8,209.5L437.8,213.5L436.6,215.5L435.7,223.5L435.0,225.5L429.6,230.5L426.5,234.3L423.5,235.7ZM162.5,265.8L160.5,266.3L158.5,266.0L156.5,264.5L156.3,263.5L157.0,262.5L158.5,261.9L161.5,262.0L163.5,263.5L163.7,264.5L162.5,265.8ZM531.5,300.0L506.5,299.9L502.5,299.1L500.1,297.5L495.5,290.5L494.8,287.5L495.5,285.0L502.5,272.0L504.5,270.6L507.5,270.1L531.5,270.0L531.5,300.0ZM111.5,298.6L109.6,297.5L109.2,295.5L110.5,293.5L112.5,293.2L114.3,294.5L114.5,295.8L113.5,297.7L111.5,298.6ZM490.5,455.7L487.5,456.2L485.5,455.4L484.3,453.5L483.0,446.5L478.1,442.5L477.3,440.5L478.5,437.8L482.5,434.3L483.7,431.5L484.3,409.5L485.5,406.8L488.5,403.4L489.5,401.4L489.4,389.5L492.5,381.7L491.8,373.5L493.3,370.5L494.5,369.6L495.5,369.7L497.1,371.5L497.3,375.5L498.5,377.2L502.5,382.0L508.5,387.8L531.5,388.0L531.5,396.0L509.5,396.0L507.5,396.2L505.5,397.1L502.2,401.5L500.4,407.5L500.0,411.5L500.5,416.5L502.2,423.5L503.1,425.5L504.5,427.0L508.5,428.0L531.5,428.0L531.5,444.0L508.5,444.0L503.8,444.5L501.5,445.8L498.2,450.5L490.5,455.7ZM459.5,403.9L457.5,404.2L453.5,402.4L450.5,404.0L449.5,403.9L448.3,402.5L447.7,400.5L448.4,395.5L448.1,390.5L451.5,385.3L455.5,382.8L457.5,382.9L463.0,385.5L466.5,391.5L464.9,397.5L461.8,400.5L459.5,403.9ZM204.5,555.5L84.4,555.5L84.5,404.0L107.5,404.0L112.2,404.5L114.5,405.8L117.8,410.5L121.5,412.9L122.9,414.5L123.8,417.5L124.1,429.5L124.6,432.5L125.8,434.5L130.0,437.5L131.0,439.5L130.0,442.5L125.8,445.5L124.6,447.5L124.1,450.5L124.3,455.5L125.5,458.1L130.2,461.5L131.4,463.5L131.9,466.5L132.2,478.5L132.6,480.5L134.1,482.5L136.5,483.1L143.5,482.3L151.5,483.7L160.5,483.2L168.2,485.5L171.5,487.0L177.5,490.8L187.5,499.3L192.5,504.9L198.5,508.4L201.5,508.4L214.0,501.5L219.8,499.5L223.5,498.9L226.5,499.4L228.5,500.5L233.5,506.6L241.4,510.5L241.8,512.5L240.5,514.2L233.5,517.2L227.5,522.0L218.2,525.5L206.5,533.5L205.3,535.5L204.9,537.5L204.5,555.5ZM344.5,467.7L342.5,466.7L341.6,464.5L342.0,455.5L339.0,448.5L338.1,442.5L338.5,439.5L339.4,437.5L341.5,435.3L343.5,434.7L345.5,435.4L346.5,436.6L347.6,440.5L344.5,455.5L344.8,457.5L346.9,462.5L347.0,464.5L346.2,466.5L344.5,467.7ZM531.5,555.6L452.0,555.5L452.0,539.5L451.4,535.5L449.5,533.1L444.5,532.1L439.5,533.1L437.7,534.5L436.6,536.5L436.0,540.5L436.0,555.5L428.1,555.5L427.8,537.5L426.5,534.5L423.4,530.5L422.8,528.5L423.5,525.7L426.3,521.5L426.6,519.5L422.3,512.5L420.3,505.5L420.8,496.5L422.1,492.5L427.3,486.5L431.5,484.6L438.6,485.5L446.5,488.4L448.5,488.2L453.5,484.4L458.5,481.6L462.5,478.1L465.5,476.9L472.5,477.2L481.5,480.7L490.5,481.3L497.4,480.5L503.5,476.8L506.5,476.0L531.5,475.9L531.5,555.6ZM113.4,482.5L114.8,480.5L114.5,478.5L112.5,477.2L110.5,477.5L109.2,479.5L109.5,481.5L111.5,482.8L113.4,482.5ZM379.5,555.5L362.1,555.5L362.1,539.5L361.2,535.5L357.5,530.8L353.5,523.9L342.5,512.6L340.9,508.5L340.0,502.5L340.1,489.5L341.4,485.5L343.5,483.5L345.5,483.1L351.5,483.6L359.5,482.2L362.5,483.0L364.9,485.5L365.6,487.5L365.3,490.5L358.5,502.0L358.2,504.5L358.9,507.5L362.5,511.8L365.2,513.5L371.5,516.1L377.5,523.0L385.4,528.5L385.2,530.5L381.6,534.5L380.3,537.5L380.0,555.5L379.5,555.5ZM310.5,555.5L233.4,555.5L233.5,536.5L235.5,526.7L237.6,524.5L247.5,521.6L252.5,521.8L263.5,523.7L269.5,523.2L272.5,522.1L275.8,518.5L278.5,516.7L291.5,514.2L294.1,512.5L299.1,507.5L302.5,500.7L310.5,487.9L312.5,486.9L315.5,487.3L321.5,491.5L324.9,495.5L325.9,499.5L325.9,509.5L325.1,513.5L320.9,522.5L316.9,529.5L312.3,534.5L311.3,536.5L310.9,555.5L310.5,555.5Z"/>
<path fill="#FF3218" fill-rule="evenodd" d="M223.5,137.0L221.5,137.0L219.5,135.4L218.1,133.5L217.0,129.5L217.0,126.5L218.9,120.5L219.6,112.5L218.5,104.8L216.5,101.9L208.5,97.9L199.1,103.5L194.5,107.5L192.5,108.5L190.5,108.7L187.5,108.2L184.5,106.9L182.9,105.5L182.8,103.5L185.5,100.1L189.4,92.5L189.6,76.5L237.0,76.5L237.1,88.5L238.0,96.5L237.6,103.5L234.6,112.5L229.6,123.5L229.6,131.5L228.2,133.5L223.5,137.0ZM289.5,216.5L286.5,217.1L283.5,216.4L280.5,213.8L275.8,207.5L274.5,206.6L271.5,205.8L268.5,207.0L263.4,199.5L259.5,196.5L256.5,195.4L253.5,195.8L247.2,198.5L245.5,200.7L242.7,207.5L240.5,209.8L235.5,211.2L230.5,210.9L228.5,209.8L225.5,206.7L220.5,204.4L218.6,202.5L217.8,199.5L217.2,191.5L214.0,185.5L214.9,183.5L216.9,182.5L231.5,179.4L238.5,174.6L243.5,172.5L246.5,169.8L251.4,162.5L253.3,157.5L257.3,140.5L259.5,127.5L260.2,118.5L261.0,115.5L263.3,110.5L268.5,102.9L274.0,97.5L275.5,94.5L275.8,76.5L531.7,76.5L531.5,186.1L508.5,186.2L504.5,186.7L501.5,188.6L495.5,194.3L483.5,200.7L480.5,201.8L471.5,202.0L457.5,200.9L454.5,200.0L453.5,199.0L453.2,197.5L454.8,186.5L455.5,184.5L458.8,180.5L460.4,177.5L465.2,161.5L465.7,157.5L465.2,152.5L462.4,144.5L462.1,139.5L461.2,136.5L460.3,134.5L458.5,132.6L455.5,131.9L451.5,133.5L435.5,144.8L425.5,147.8L417.5,148.8L407.5,148.0L391.5,148.5L383.5,150.9L372.5,151.9L362.5,155.9L359.5,156.6L356.7,155.5L352.5,151.6L349.5,151.6L342.5,156.6L340.7,158.5L337.3,168.5L332.6,174.5L329.7,182.5L328.5,184.5L314.1,193.5L303.5,196.6L301.1,199.5L297.0,209.5L293.5,213.5L289.5,216.5ZM102.5,203.6L84.5,204.0L84.5,196.0L101.5,195.9L103.5,195.2L104.1,194.5L104.4,192.5L101.5,179.5L100.5,167.3L99.4,165.5L96.5,164.2L84.5,164.0L84.5,148.0L96.5,147.9L98.5,147.1L99.5,146.0L100.5,143.1L101.1,138.5L101.2,117.5L102.5,102.4L103.5,100.3L105.5,99.1L114.5,98.7L117.5,99.7L120.2,103.5L122.4,120.5L121.9,151.5L120.8,165.5L118.6,173.5L117.6,183.5L116.4,188.5L113.5,192.5L107.5,197.5L104.6,202.5L102.5,203.6ZM331.3,132.5L333.1,130.5L334.0,127.5L333.7,113.5L332.6,110.5L331.0,108.5L328.5,107.1L326.5,107.0L323.7,108.5L322.4,111.5L322.2,120.5L322.6,126.5L323.5,129.5L325.5,132.3L328.5,133.4L331.3,132.5ZM151.5,111.7L150.4,111.5L150.5,110.5L151.6,110.5L151.5,111.7ZM370.5,137.5L373.0,134.5L373.7,132.5L372.9,129.5L374.2,125.5L373.2,122.5L373.5,119.5L372.5,117.5L363.5,111.9L359.5,111.1L348.5,112.1L345.5,113.7L343.6,115.5L340.9,120.5L340.5,122.5L340.6,128.5L342.5,131.7L345.5,133.8L349.5,135.2L360.5,134.5L362.5,135.2L366.5,138.3L368.5,138.5L370.5,137.5ZM129.5,122.5L127.5,122.9L124.8,121.5L124.3,120.5L124.9,118.5L127.5,117.1L129.5,117.5L130.5,118.5L130.8,120.5L129.5,122.5ZM187.5,187.7L181.5,187.8L180.5,187.0L180.5,184.5L181.4,180.5L182.5,177.8L183.5,176.8L184.5,176.8L185.2,177.5L186.5,180.2L187.6,184.5L187.5,187.7ZM180.5,216.7L176.5,217.3L173.5,216.1L172.5,214.5L172.2,212.5L172.9,208.5L174.5,206.2L176.5,204.8L184.2,203.5L186.5,202.1L187.9,198.5L188.3,188.5L192.5,188.7L194.5,190.1L195.6,192.5L195.9,203.5L195.4,207.5L193.5,210.3L188.7,213.5L184.7,215.5L180.5,216.7ZM178.5,192.9L177.5,193.3L176.5,191.5L177.5,189.8L178.5,189.3L179.3,190.5L178.5,192.9ZM422.5,227.6L419.5,227.7L417.5,226.7L416.8,223.5L418.1,220.5L421.5,216.6L423.5,215.4L425.5,215.2L426.5,215.7L427.6,217.5L427.7,222.5L426.9,224.5L425.5,226.2L422.5,227.6ZM531.5,296.9L507.5,296.9L503.5,295.7L502.0,293.5L500.7,288.5L501.5,283.6L503.3,278.5L505.5,276.7L507.5,276.2L531.5,276.1L531.5,296.9ZM497.5,401.7L495.5,402.2L493.5,400.3L491.8,396.5L490.4,390.5L490.6,388.5L493.2,383.5L493.4,381.5L492.5,374.5L493.5,371.7L494.5,370.8L496.0,371.5L496.1,374.5L496.9,376.5L501.3,382.5L505.3,386.5L506.0,389.5L505.9,391.5L504.0,395.5L501.5,398.6L497.5,401.7ZM459.5,402.8L457.5,403.3L453.5,400.9L450.5,402.8L449.5,402.6L448.4,400.5L449.3,395.5L448.8,391.5L449.3,389.5L452.5,385.2L455.5,383.6L457.5,383.8L462.4,386.5L465.0,391.5L463.6,397.5L461.5,399.5L459.5,402.8ZM497.5,434.6L494.5,434.6L493.2,433.5L492.4,431.5L492.5,424.5L493.4,422.5L494.5,421.8L496.5,422.5L497.1,423.5L498.9,429.5L499.0,432.5L497.5,434.6ZM343.5,446.5L342.5,446.3L341.5,444.7L340.9,441.5L341.5,439.1L343.5,437.8L344.5,438.2L345.4,439.5L345.6,441.5L344.5,445.2L343.5,446.5ZM531.5,555.6L468.0,555.5L467.9,539.5L467.4,536.5L466.5,534.9L461.5,530.6L458.5,526.7L456.5,525.1L446.5,523.0L440.5,517.1L432.5,515.5L429.5,513.6L424.5,507.6L423.1,504.5L422.2,497.5L423.4,493.5L429.0,487.5L432.5,486.1L438.9,487.5L445.5,490.9L448.5,490.8L454.1,485.5L459.4,482.5L463.5,479.1L465.5,478.4L471.5,479.2L479.5,482.6L488.5,483.8L496.5,483.7L506.5,482.0L531.5,481.9L531.5,555.6ZM371.5,555.5L366.3,555.5L366.2,539.5L365.8,536.5L364.8,534.5L359.5,528.7L353.5,518.8L347.5,513.5L343.5,506.5L342.7,501.5L342.9,490.5L343.9,487.5L345.5,486.2L359.5,483.6L362.2,484.5L363.9,486.5L364.2,488.5L363.5,491.2L358.8,496.5L357.3,499.5L356.5,502.5L356.5,506.5L357.3,510.5L358.5,512.9L361.0,514.5L368.5,516.4L370.6,517.5L372.3,519.5L374.5,524.1L377.8,528.5L377.3,530.5L373.6,534.5L372.2,537.5L371.9,555.5L371.5,555.5ZM203.5,555.5L84.5,555.5L84.5,524.0L102.5,523.7L104.5,522.8L105.1,520.5L103.9,517.5L101.5,516.3L84.5,516.0L84.5,492.0L110.5,491.8L119.5,489.8L135.5,488.2L143.5,486.0L151.5,486.1L158.5,485.2L161.5,485.4L173.6,491.5L186.5,501.3L191.5,507.0L199.5,512.4L201.5,512.1L205.5,509.2L219.5,501.0L223.5,500.1L226.5,500.8L228.6,502.5L231.5,508.4L234.6,511.5L234.5,512.5L226.2,519.5L215.5,524.5L210.5,529.0L205.4,532.5L204.2,534.5L203.6,537.5L203.5,555.5ZM307.5,555.5L235.9,555.5L236.0,536.5L237.1,528.5L238.3,526.5L239.7,525.5L244.5,523.4L247.5,522.8L251.5,522.9L263.5,525.3L270.5,524.9L273.5,523.6L277.5,518.7L279.5,517.6L290.5,516.2L294.5,515.0L297.5,513.0L300.5,509.2L306.5,499.5L310.5,491.5L312.5,489.7L314.5,490.0L320.0,494.5L321.4,496.5L322.0,500.5L321.9,510.5L321.1,513.5L315.5,525.0L313.5,528.3L309.7,532.5L308.7,534.5L308.2,538.5L308.1,555.5L307.5,555.5ZM433.5,529.6L431.5,530.1L430.0,528.5L430.4,526.5L431.5,525.7L432.7,525.5L434.2,526.5L434.3,528.5L433.5,529.6Z"/>
<path fill="#FF1A1C" fill-rule="evenodd" d="M223.5,136.1L221.5,136.1L219.5,134.3L217.6,128.5L219.8,120.5L220.8,112.5L219.5,104.5L217.5,101.2L210.5,96.6L208.5,96.2L206.5,97.1L192.5,106.6L189.5,106.7L186.0,105.5L184.7,104.5L184.7,103.5L188.3,97.5L192.1,92.5L192.4,76.5L206.5,76.5L206.6,89.5L207.5,91.0L208.5,91.0L209.5,90.4L210.2,88.5L210.2,76.5L235.8,76.5L235.9,88.5L237.2,95.5L236.8,103.5L234.1,111.5L228.6,123.5L228.7,131.5L227.5,133.1L223.5,136.1ZM288.5,214.7L285.5,215.0L282.5,214.1L279.5,211.6L275.5,206.5L269.9,204.5L265.4,196.5L259.3,190.5L256.5,188.8L253.5,189.8L244.5,196.3L242.7,198.5L239.9,204.5L238.5,206.2L235.5,207.4L232.5,207.4L228.5,203.5L223.7,200.5L222.9,199.5L221.3,187.5L221.5,185.5L222.7,184.5L232.5,182.2L239.5,176.9L247.5,173.3L249.5,170.9L254.0,162.5L255.2,159.5L256.7,151.5L258.8,144.5L262.2,117.5L269.5,105.1L276.4,97.5L277.9,94.5L278.2,76.5L531.7,76.5L531.5,140.4L504.5,140.7L501.5,142.6L500.7,144.5L500.4,147.5L500.7,151.5L501.5,153.4L504.5,155.3L531.5,155.6L531.5,182.1L505.5,182.3L502.5,183.7L497.5,188.9L492.5,192.8L482.5,197.6L479.5,198.3L474.5,198.3L469.5,197.7L464.5,196.4L462.4,195.5L460.6,193.5L459.8,187.5L467.2,161.5L467.4,157.5L466.3,151.5L463.6,143.5L462.3,136.5L461.0,133.5L459.5,131.8L456.5,130.7L453.5,131.2L445.5,136.0L434.5,143.6L426.5,146.1L416.5,147.2L391.5,147.1L383.5,149.1L368.5,150.0L361.5,152.9L359.5,152.9L354.5,148.2L352.5,147.1L349.5,146.7L344.5,147.5L342.5,147.1L340.9,145.5L340.9,142.5L341.5,141.5L343.5,140.3L351.5,139.4L358.5,136.6L360.5,136.8L364.5,139.3L366.5,139.9L368.5,139.7L370.5,138.6L373.5,134.5L374.1,132.5L373.3,129.5L374.6,125.5L373.6,122.5L373.7,118.5L373.0,117.5L363.5,111.4L358.5,110.7L347.5,111.8L341.5,116.1L340.5,116.3L338.7,114.5L335.7,108.5L331.5,104.0L327.5,102.4L320.6,102.5L318.5,103.2L317.1,104.5L316.4,107.5L316.5,111.5L318.5,125.5L324.7,141.5L325.4,148.5L325.0,153.5L324.0,156.5L321.6,160.5L316.7,166.5L315.5,169.5L315.7,175.5L319.5,181.5L319.9,183.5L318.1,186.5L313.5,190.6L310.5,192.0L304.5,193.4L301.6,195.5L299.6,198.5L297.4,204.5L294.8,209.5L291.5,213.1L288.5,214.7ZM107.5,166.6L105.5,165.2L103.0,160.5L102.2,154.5L103.3,140.5L103.4,116.5L104.0,114.5L105.5,112.3L108.5,110.9L110.5,112.0L111.4,114.5L111.6,127.5L112.5,134.5L112.5,147.5L110.1,163.5L109.2,165.5L107.5,166.6ZM499.5,398.9L496.5,399.4L495.2,398.5L493.2,395.5L491.2,390.5L491.4,388.5L494.0,383.5L493.5,374.5L494.5,372.5L495.8,376.5L500.5,382.7L504.2,386.5L504.9,388.5L504.8,391.5L504.0,393.5L502.2,396.5L499.5,398.9ZM458.5,402.3L457.5,402.2L453.5,399.7L450.5,401.5L449.4,400.5L450.1,395.5L449.7,390.5L452.5,386.1L455.5,384.3L457.5,384.5L460.9,386.5L463.9,391.5L463.1,396.5L458.5,402.3ZM531.5,555.5L483.6,555.5L483.5,538.5L483.0,536.5L481.8,534.5L479.5,533.0L473.5,532.1L470.5,530.7L466.5,526.0L462.1,522.5L457.5,517.4L455.5,516.6L448.5,515.8L446.2,514.5L441.5,509.4L439.5,508.6L433.5,508.1L430.5,506.8L427.5,503.7L424.9,499.5L424.6,496.5L425.5,494.5L430.5,489.4L432.5,488.4L435.5,489.0L443.5,493.6L446.5,494.1L448.5,493.8L450.5,492.4L455.2,486.5L459.5,484.3L463.5,481.3L465.5,480.6L468.5,481.1L477.5,484.2L489.5,486.4L506.5,485.7L531.5,485.7L531.5,555.5ZM352.5,512.6L351.5,512.5L349.5,510.7L346.5,504.5L346.1,497.5L346.9,491.5L347.9,489.5L350.5,487.8L357.5,485.1L360.5,485.2L362.5,487.0L362.7,489.5L361.5,491.6L357.5,494.5L356.2,496.5L354.9,501.5L354.0,510.5L353.5,512.0L352.5,512.6ZM201.5,555.5L115.6,555.5L115.7,538.5L117.3,530.5L117.2,527.5L115.9,524.5L111.4,521.5L109.7,518.5L107.8,510.5L107.8,505.5L108.5,502.5L110.2,500.5L116.5,495.5L121.5,493.1L143.5,488.6L152.5,488.2L159.5,487.2L162.5,487.9L170.5,491.7L176.6,496.5L185.5,502.3L196.1,514.5L199.5,516.5L202.5,515.7L206.9,511.5L214.5,507.0L219.7,502.5L222.5,501.4L225.5,501.8L227.5,503.5L228.3,505.5L229.3,510.5L228.5,513.5L224.5,517.2L213.5,523.0L208.9,527.5L205.0,530.5L203.0,533.5L202.2,538.5L202.2,555.5L201.5,555.5ZM304.5,555.5L238.5,555.5L238.6,533.5L239.5,528.5L242.7,525.5L245.5,524.3L248.5,523.8L252.5,524.3L263.5,527.3L270.5,527.2L274.5,525.4L278.5,519.9L280.5,518.7L294.5,517.8L298.5,516.8L300.5,515.0L303.5,510.0L307.3,505.5L311.5,496.1L312.5,495.0L313.5,494.9L315.3,496.5L316.0,498.5L316.0,511.5L313.5,520.9L308.5,527.1L306.1,532.5L305.3,537.5L305.3,555.5L304.5,555.5ZM368.5,530.7L365.5,529.4L360.2,523.5L358.9,520.5L359.7,518.5L361.5,517.9L365.5,517.6L368.5,518.3L370.0,519.5L371.1,522.5L371.5,527.5L370.5,529.6L368.5,530.7Z"/>
<path fill="#FF0A14" fill-rule="evenodd" d="M193.5,104.6L190.5,105.4L187.5,104.5L186.6,103.5L189.5,97.5L192.9,94.5L194.1,92.5L194.3,76.5L204.8,76.5L204.9,90.5L205.5,92.2L207.5,93.5L208.0,94.5L201.6,99.5L193.5,104.6ZM223.5,135.0L222.5,135.3L220.5,134.0L219.5,132.5L218.5,128.5L220.9,120.5L221.9,113.5L221.6,109.5L220.2,103.5L217.5,99.7L208.6,93.5L211.2,91.5L212.1,89.5L212.2,76.5L234.6,76.5L234.7,88.5L236.5,95.5L236.2,102.5L233.5,110.9L227.8,122.5L227.4,124.5L228.0,129.5L227.7,131.5L223.5,135.0ZM289.5,212.6L285.5,213.1L281.5,211.8L279.5,210.2L276.5,206.4L272.5,203.5L267.5,191.3L258.5,182.1L253.5,179.3L252.7,177.5L252.8,175.5L254.8,167.5L259.0,161.5L260.2,158.5L261.9,145.5L261.5,134.5L263.5,119.5L269.4,108.5L280.1,95.5L280.7,91.5L280.7,76.5L309.2,76.5L309.2,109.5L310.1,112.5L314.0,118.5L315.1,125.5L317.9,132.5L321.0,142.5L321.5,146.5L321.4,151.5L319.3,156.5L310.8,166.5L308.7,173.5L308.7,177.5L313.4,182.5L313.5,184.7L311.5,186.6L304.5,188.1L302.5,189.6L298.0,197.5L293.7,208.5L291.5,211.3L289.5,212.6ZM481.5,195.5L477.5,195.8L470.5,194.4L467.4,192.5L465.2,188.5L464.5,183.5L465.6,174.5L467.1,167.5L469.8,160.5L470.1,156.5L469.4,152.5L466.4,145.5L463.1,133.5L460.5,130.0L457.5,128.9L453.5,129.7L444.6,134.5L433.5,142.1L424.5,144.8L402.5,146.2L391.5,145.6L381.5,147.7L374.5,147.6L367.5,146.7L361.5,147.7L360.1,147.5L358.4,146.5L357.0,144.5L357.1,142.5L358.0,141.5L360.5,140.9L365.5,142.5L368.5,142.1L370.5,140.3L374.0,134.5L374.6,132.5L373.8,129.5L375.1,126.5L374.0,122.5L374.2,118.5L370.5,115.1L362.5,110.8L358.5,110.3L348.5,110.8L342.5,112.5L340.5,110.3L336.5,102.7L334.3,100.5L329.5,98.8L320.5,98.4L317.0,97.5L315.3,95.5L314.9,93.5L314.8,76.5L477.1,76.5L476.9,103.5L475.8,106.5L471.2,110.5L470.6,112.5L471.5,114.0L475.5,117.1L476.9,120.5L477.2,134.5L479.0,143.5L478.0,150.5L478.5,153.2L483.5,156.9L487.4,161.5L490.5,162.6L531.5,163.0L531.5,178.5L507.5,178.5L502.5,179.2L500.5,180.5L497.3,185.5L493.0,189.5L487.5,193.0L481.5,195.5ZM531.5,125.1L505.5,125.0L502.5,124.3L500.5,122.8L499.1,119.5L498.4,105.5L496.5,102.6L492.8,99.5L491.3,96.5L490.9,76.5L531.7,76.5L531.5,125.1ZM281.9,170.5L283.3,168.5L282.4,165.5L277.5,163.4L274.4,157.5L272.5,156.7L269.8,157.5L268.9,159.5L270.5,162.4L275.5,164.9L277.5,168.5L279.5,170.3L281.9,170.5ZM240.5,193.8L238.5,193.9L236.8,191.5L236.6,186.5L237.8,183.5L240.1,181.5L242.5,180.7L247.5,180.5L250.5,181.3L250.7,183.5L249.7,185.5L240.5,193.8ZM499.5,397.8L497.5,398.1L496.3,397.5L492.0,390.5L492.2,388.5L494.7,383.5L494.9,379.5L495.5,378.1L497.5,379.7L503.3,386.5L504.1,388.5L504.1,390.5L503.1,393.5L501.5,396.1L499.5,397.8ZM458.5,400.9L457.5,400.9L453.5,398.6L451.5,398.8L450.9,397.5L450.4,390.5L452.5,387.0L455.5,385.0L457.5,385.3L460.5,387.3L462.9,391.5L462.9,393.5L462.1,396.5L458.5,400.9ZM531.5,533.1L492.5,533.1L487.5,532.0L485.4,530.5L481.5,526.2L477.1,523.5L473.5,518.5L469.1,515.5L465.5,510.5L461.1,507.5L457.5,502.5L453.2,499.5L452.5,498.5L452.2,496.5L455.3,489.5L457.7,487.5L465.5,484.4L481.2,487.5L486.5,490.2L489.5,491.0L531.5,491.1L531.5,533.1ZM356.5,491.6L353.9,491.5L355.1,488.5L358.5,486.6L360.5,487.2L361.0,488.5L360.5,489.9L359.5,490.7L356.5,491.6ZM200.5,555.5L130.9,555.5L130.7,537.5L129.0,530.5L127.5,528.0L122.9,524.5L119.6,518.5L116.1,514.5L115.4,512.5L115.2,505.5L118.7,498.5L120.4,496.5L122.5,495.1L131.5,492.7L145.5,490.0L158.5,489.0L161.5,489.4L169.5,492.9L175.5,497.5L185.5,503.6L190.0,509.5L193.5,516.4L197.5,520.5L200.5,522.1L202.5,521.7L206.5,517.3L210.5,514.7L213.5,511.5L217.5,508.5L221.3,503.5L223.5,502.8L225.4,503.5L226.5,505.3L226.8,507.5L226.5,510.5L225.5,512.5L222.5,514.5L213.5,517.6L209.5,522.2L205.1,525.5L202.1,530.5L200.6,536.5L200.5,555.5ZM351.5,503.0L350.4,502.5L350.1,497.5L350.5,495.1L352.5,492.9L353.0,493.5L352.9,496.5L351.5,503.0ZM433.5,499.8L430.5,499.0L429.1,496.5L430.5,494.1L432.5,493.1L434.5,493.9L435.9,496.5L435.4,498.5L433.5,499.8ZM282.5,531.7L279.5,532.3L277.5,531.5L276.7,530.5L276.5,528.5L279.5,522.3L281.5,520.6L283.5,520.2L288.5,520.4L290.6,521.5L290.9,522.5L290.4,523.5L286.5,526.4L282.5,531.7ZM252.5,555.5L243.2,555.5L243.1,539.5L241.6,532.5L241.6,529.5L243.6,526.5L247.5,524.9L250.5,525.1L254.5,526.5L257.9,528.5L259.1,530.5L257.9,532.5L254.7,535.5L253.5,537.8L253.1,555.5L252.5,555.5Z"/>
<path fill="#F50F28" fill-rule="evenodd" d="M192.5,103.5L189.5,103.4L188.7,102.5L188.8,101.5L190.5,98.0L194.5,95.0L195.6,93.5L195.9,76.5L203.5,76.5L203.6,94.5L199.4,99.5L192.5,103.5ZM222.5,132.7L221.4,131.5L220.7,127.5L222.9,121.5L223.9,113.5L220.9,102.5L219.0,99.5L213.7,93.5L214.0,76.5L233.2,76.5L233.4,88.5L235.5,94.5L235.4,102.5L232.5,110.9L227.7,117.5L225.8,121.5L225.1,124.5L225.7,130.5L223.5,132.4L222.5,132.7ZM303.5,171.5L301.5,172.2L297.5,172.3L293.5,170.8L291.5,167.9L288.5,158.7L285.0,154.5L282.5,150.4L279.5,148.7L272.5,148.0L269.5,146.7L264.1,137.5L263.8,133.5L265.3,126.5L265.5,121.5L266.2,118.5L270.5,110.4L276.5,102.1L281.4,97.5L282.4,95.5L282.8,76.5L302.4,76.5L302.1,96.5L298.9,103.5L302.1,107.5L304.8,113.5L309.4,119.5L310.9,125.5L315.5,132.6L318.4,142.5L318.9,149.5L317.6,154.5L315.5,157.1L310.5,161.0L305.5,169.6L303.5,171.5ZM384.5,145.7L375.5,145.7L373.5,145.1L371.9,143.5L372.9,138.5L375.0,133.5L374.3,129.5L375.6,126.5L374.4,122.5L374.7,118.5L373.5,116.9L363.5,110.6L358.5,109.9L351.5,110.2L345.5,109.5L343.5,108.7L341.6,106.5L337.6,94.5L337.4,76.5L454.6,76.5L455.2,85.5L456.5,87.1L461.5,89.5L463.5,91.5L465.9,96.5L467.0,102.5L466.2,106.5L461.8,116.5L459.0,121.5L455.6,125.5L450.4,129.5L441.5,133.9L434.8,139.5L430.5,141.3L423.5,143.1L409.5,144.7L400.5,145.0L391.5,144.0L384.5,145.7ZM531.5,104.0L507.5,104.0L504.5,103.5L501.5,101.9L498.1,98.5L496.8,95.5L496.5,76.5L531.5,76.4L531.5,104.0ZM473.5,147.7L471.5,148.0L469.4,145.5L469.0,141.5L470.5,139.1L472.5,139.2L474.5,141.5L475.0,144.5L474.5,146.4L473.5,147.7ZM479.5,193.5L475.5,192.9L471.5,191.4L468.6,188.5L467.4,185.5L467.3,181.5L468.9,168.5L471.5,163.6L474.5,161.9L480.5,162.9L491.0,168.5L493.7,170.5L495.6,174.5L495.8,177.5L495.2,182.5L493.0,186.5L490.5,188.8L485.8,191.5L482.5,193.0L479.5,193.5ZM287.5,211.7L285.5,211.5L282.8,210.5L278.5,206.6L276.7,203.5L275.8,200.5L275.1,189.5L274.2,188.5L269.5,185.9L262.0,178.5L260.6,176.5L259.8,173.5L260.0,169.5L260.8,167.5L262.5,165.7L263.5,165.3L265.5,165.6L269.3,168.5L274.5,171.2L276.8,173.5L278.3,177.5L277.5,185.3L278.5,185.4L279.5,184.7L283.4,179.5L286.5,178.0L290.5,178.2L292.5,179.5L293.9,181.5L297.3,188.5L297.6,192.5L292.6,207.5L290.5,210.4L287.5,211.7ZM499.5,396.8L497.5,396.8L496.5,396.1L493.0,390.5L493.1,388.5L494.8,385.5L496.5,380.8L502.3,386.5L503.3,388.5L503.3,390.5L502.5,392.9L500.9,395.5L499.5,396.8ZM458.5,399.5L457.5,399.7L452.5,397.0L451.5,394.6L451.0,391.5L451.5,389.5L453.5,386.9L455.5,385.8L457.5,386.1L459.5,387.5L461.9,391.5L461.5,395.6L458.5,399.5ZM197.5,555.5L136.5,555.5L136.4,540.5L135.6,535.5L130.9,526.5L125.2,521.5L121.3,513.5L119.6,503.5L119.8,500.5L120.7,498.5L122.5,496.7L124.5,495.9L141.5,491.8L147.5,490.9L159.5,490.3L162.5,491.1L168.5,493.9L174.5,498.1L184.5,504.0L187.0,506.5L189.4,510.5L190.5,516.6L192.0,520.5L196.2,525.5L197.8,528.5L197.5,555.5ZM531.5,518.6L506.5,518.6L501.5,517.7L498.8,515.5L497.7,512.5L497.5,505.5L498.3,501.5L500.5,499.0L504.5,497.8L531.5,497.6L531.5,518.6ZM248.5,534.5L245.5,533.3L244.3,531.5L243.9,529.5L245.5,527.0L248.5,526.1L250.8,526.5L252.5,527.5L253.6,529.5L252.0,532.5L248.5,534.5Z"/>
<path fill="#E81850" fill-rule="evenodd" d="M199.5,93.9L198.3,93.5L197.7,91.5L197.6,76.5L201.9,76.5L201.7,91.5L200.5,93.5L199.5,93.9ZM229.5,111.7L226.5,111.0L225.0,109.5L221.9,101.5L219.1,96.5L216.7,90.5L216.4,76.5L231.2,76.5L231.3,89.5L231.5,90.5L234.4,94.5L234.7,100.5L234.1,103.5L231.7,109.5L229.5,111.7ZM301.5,165.6L296.5,165.1L293.7,162.5L290.7,152.5L289.7,145.5L288.6,143.5L286.5,142.3L279.5,141.5L277.0,140.5L270.1,132.5L269.2,130.5L268.1,121.5L269.0,117.5L275.0,108.5L277.6,103.5L282.5,99.4L284.2,96.5L284.7,92.5L284.7,76.5L297.2,76.5L296.9,94.5L293.5,101.4L293.2,104.5L294.3,106.5L297.8,108.5L299.7,110.5L301.5,115.0L304.6,120.5L306.6,126.5L313.5,133.8L316.6,143.5L316.8,150.5L315.5,154.2L313.5,156.1L309.2,158.5L304.5,164.2L301.5,165.6ZM405.5,143.5L400.5,143.5L392.5,142.3L380.5,143.7L377.5,143.4L375.5,142.5L374.5,140.6L374.3,137.5L375.7,132.5L374.9,129.5L376.2,126.5L375.0,122.5L375.3,119.5L374.8,117.5L370.5,114.1L363.5,110.0L358.5,109.4L352.5,109.6L350.5,109.0L346.1,106.5L343.8,103.5L342.5,96.5L342.8,76.5L448.5,76.5L448.6,84.5L449.7,88.5L452.4,91.5L458.8,94.5L460.5,97.0L461.7,101.5L461.8,104.5L460.8,107.5L454.5,119.3L449.5,126.6L446.6,128.5L439.5,131.7L435.4,136.5L432.9,138.5L423.5,141.2L405.5,143.5ZM531.5,100.5L507.5,100.5L504.5,100.1L502.5,99.3L500.7,97.5L499.7,94.5L499.5,76.5L531.5,76.4L531.5,100.5ZM195.5,100.5L192.5,101.5L191.1,100.5L191.2,99.5L192.5,98.1L194.5,97.1L196.5,96.8L197.4,97.5L197.5,98.5L195.5,100.5ZM483.5,189.5L480.5,190.3L476.5,189.7L472.5,187.8L470.7,185.5L470.2,182.5L471.3,171.5L472.4,168.5L473.5,167.5L478.5,167.4L482.5,168.5L488.5,172.0L490.7,174.5L491.6,179.5L490.6,184.5L488.5,186.8L483.5,189.5ZM272.5,180.0L270.5,179.9L268.5,178.3L267.5,175.5L268.5,174.0L271.5,173.5L273.5,174.6L274.3,177.5L273.5,179.2L272.5,180.0ZM288.5,209.9L285.5,209.9L282.0,207.5L279.5,202.5L278.6,197.5L279.0,192.5L280.1,189.5L284.5,183.5L287.5,181.7L289.5,182.0L291.5,184.2L294.1,189.5L294.7,192.5L294.1,197.5L292.0,205.5L290.5,208.4L288.5,209.9ZM499.5,395.5L497.5,395.4L494.5,391.3L493.8,389.5L496.5,384.0L497.5,383.3L501.1,386.5L502.3,388.5L501.7,392.5L499.5,395.5ZM458.5,398.1L457.5,398.4L454.2,396.5L453.0,395.5L452.2,393.5L451.9,391.5L452.5,389.5L454.1,387.5L455.5,386.7L456.5,386.7L458.5,387.9L460.8,391.5L461.0,393.5L460.5,395.5L458.5,398.1ZM192.5,555.5L139.5,555.5L139.4,542.5L137.5,533.5L133.7,526.5L127.3,519.5L124.4,514.5L121.1,502.5L121.2,500.5L122.2,498.5L123.5,497.5L126.5,496.5L142.5,492.7L159.5,491.5L162.5,492.3L168.5,495.4L184.5,505.1L186.6,507.5L188.5,511.2L189.5,522.1L192.7,529.5L192.5,555.5ZM531.5,512.5L506.5,512.3L504.8,511.5L504.1,510.5L503.8,506.5L504.8,504.5L507.5,503.6L531.5,503.5L531.5,512.5ZM248.5,530.8L247.4,530.5L246.8,529.5L247.5,528.3L249.6,528.5L250.0,529.5L248.5,530.8Z"/>
<path fill="#CC2090" fill-rule="evenodd" d="M225.5,89.7L222.5,89.7L220.8,88.5L220.4,76.5L227.6,76.5L227.5,87.5L227.1,88.5L225.5,89.7ZM302.5,159.9L300.5,160.1L298.5,159.5L296.8,157.5L295.7,153.5L295.1,145.5L292.9,141.5L288.5,137.6L286.5,136.9L281.5,136.2L278.5,134.6L276.0,131.5L274.1,125.5L271.5,121.5L271.8,118.5L275.8,113.5L279.5,105.0L285.1,100.5L286.8,97.5L287.3,93.5L287.3,76.5L291.5,76.5L291.5,93.5L289.3,105.5L288.5,107.1L285.0,110.5L285.1,113.5L286.5,114.9L288.5,115.2L290.5,114.4L293.5,111.4L295.5,111.4L296.5,112.0L298.5,116.5L300.9,126.5L302.5,128.5L310.5,134.7L313.5,139.8L314.7,143.5L314.8,150.5L313.5,153.5L302.5,159.9ZM412.5,140.5L404.5,141.5L392.5,140.5L384.5,141.0L380.2,140.5L377.5,139.5L376.5,138.2L376.1,136.5L376.5,132.5L375.9,129.5L377.1,126.5L375.7,122.5L376.2,118.5L375.0,116.5L370.5,113.2L363.5,109.3L352.8,108.5L349.0,105.5L346.9,102.5L345.9,96.5L346.4,92.5L348.1,86.5L348.3,76.5L427.7,76.5L427.9,86.5L430.0,91.5L428.8,96.5L429.8,109.5L428.6,123.5L429.6,127.5L432.7,132.5L432.8,134.5L431.1,136.5L424.5,138.9L412.5,140.5ZM531.5,97.7L507.5,97.6L503.8,96.5L502.6,94.5L502.4,92.5L502.3,76.5L531.5,76.5L531.5,97.7ZM229.5,106.8L228.5,107.2L227.5,106.5L223.6,97.5L223.4,96.5L224.3,95.5L230.5,95.4L232.0,96.5L231.9,101.5L229.5,106.8ZM288.5,207.9L286.5,208.2L283.5,206.2L281.5,202.0L280.7,197.5L280.9,193.5L282.5,189.3L284.5,186.7L287.5,185.3L289.5,186.1L290.5,187.4L292.0,190.5L292.5,193.5L291.5,201.7L290.3,205.5L288.5,207.9ZM498.5,393.7L496.5,391.5L495.5,389.5L497.5,386.0L499.5,386.8L500.9,389.5L500.5,391.6L499.5,393.3L498.5,393.7ZM457.5,396.5L454.5,394.7L453.5,392.8L453.6,390.5L455.5,388.3L457.5,389.0L459.5,392.2L459.2,394.5L458.5,395.9L457.5,396.5ZM155.5,555.5L142.3,555.5L142.1,542.5L139.2,532.5L136.9,527.5L128.5,517.0L125.9,512.5L122.6,502.5L122.7,500.5L124.5,498.5L145.6,493.5L160.5,493.1L167.5,496.5L182.9,505.5L184.5,506.7L186.5,509.5L187.4,512.5L187.3,527.5L186.7,529.5L183.8,533.5L181.5,538.5L180.5,539.4L178.5,539.9L161.5,540.1L157.5,541.0L155.9,543.5L155.5,555.5Z"/>
</g>
<g clip-path="url(#fc)" fill="none">
<path d="M221.3,224.3L188.8,192.6M301.2,302.3L298.6,87.3M301.2,302.3L302.9,440.3M303.0,448.3L303.1,456.3M303.9,524.3L304.1,538.3M301.2,302.3L173.9,230.9M301.2,302.3L194.6,365.6M301.2,302.3L345.9,275.8M387.2,251.2L511.9,177.2M455.2,259.0L508.2,244.1M301.2,302.3L380.6,346.8M271.0,194.8L260.1,156.0M244.2,206.3L229.2,181.1M193.0,274.7L182.0,271.9M223.2,382.2L204.8,401.1M246.5,399.7L237.1,416.5M186.2,507.2L173.0,530.8M273.6,410.5L264.6,445.7M331.4,409.8L347.2,466.0M358.2,398.3L372.7,422.7M421.7,505.2L437.0,531.0M381.1,380.3L411.4,409.9M485.8,482.5L510.2,506.2M328.8,194.1L342.4,140.5M351.8,103.7L355.5,89.1M384.4,154.0L419.6,91.3M464.6,134.8L510.7,87.6M338.1,196.9L332.6,195.1L327.0,193.6L321.3,192.4L315.6,191.5L309.9,190.9L304.1,190.6L298.3,190.6L292.5,190.9L286.7,191.5L281.0,192.4L275.3,193.6L269.7,195.1L264.2,196.9L258.8,199.0L253.5,201.3L248.3,203.9L243.3,206.8L238.4,209.9L233.7,213.3L229.2,216.9L224.9,220.7L220.8,224.8L216.8,229.1L213.2,233.6L209.7,238.2L206.5,243.0L203.6,248.0L200.9,253.2L198.5,258.4L196.3,263.8L194.5,269.3L192.9,274.9L191.6,280.5L190.7,286.2L190.0,292.0M201.4,352.5L204.1,357.4L206.9,362.2L210.1,366.9L213.4,371.4L217.0,375.7L220.8,379.8L224.8,383.8L229.0,387.5M239.9,395.7L244.7,398.7L249.7,401.4L254.7,403.9L260.0,406.1L265.3,408.1L270.7,409.8L276.2,411.2L281.8,412.3L287.4,413.1L293.0,413.7L298.7,414.0L304.3,414.0L310.0,413.7L315.6,413.1L321.2,412.2L326.8,411.0L332.3,409.6L337.7,407.9L343.0,405.9L348.2,403.6L353.3,401.1L358.2,398.3L363.0,395.3L367.7,392.1L372.1,388.6L376.4,384.9L380.5,380.9L384.4,376.8L388.1,372.5L391.5,368.0L394.8,363.3L397.7,358.5L400.5,353.5M407.0,266.5L405.3,261.9L403.5,257.4L401.4,253.0L399.2,248.7L396.7,244.4L394.1,240.3M508.8,206.8L503.6,196.3L497.9,186.1L491.7,176.2L485.0,166.6L477.9,157.4L470.2,148.5L462.1,140.1L453.6,132.0L444.7,124.5L435.4,117.4L425.8,110.7L415.8,104.6L405.5,99.0L395.0,93.9L384.2,89.4M272.2,528.9L283.5,530.1L294.9,530.7L306.3,530.7L317.7,530.2L329.0,529.1L340.3,527.4L351.4,525.2M207.2,510.6L212.7,512.9L218.2,515.2" stroke="#2a2a2a" stroke-width="0.75" stroke-dasharray="2.7,3.8"/>
<path d="M184.3,105.3C183.9,104.5 186.8,102.3 188.5,100.8C190.2,99.4 192.1,97.9 194.5,96.8C196.9,95.6 200.4,94.4 203.0,93.7C205.5,93.0 206.9,92.8 209.8,92.5C212.6,92.2 216.0,92.1 220.0,92.0C223.9,91.9 231.0,90.6 233.6,92.0C236.1,93.4 235.2,97.4 235.3,100.5C235.3,103.6 234.7,107.6 233.9,110.7C233.1,113.8 231.4,116.8 230.5,119.2C229.6,121.6 228.5,123.0 228.5,125.1C228.4,127.3 231.0,129.9 230.2,131.9C229.3,134.0 225.2,137.1 223.4,137.5C221.5,138.0 220.0,136.1 219.1,134.5C218.3,132.8 218.0,130.0 218.3,127.7C218.6,125.4 220.0,123.4 220.8,120.9C221.7,118.3 223.2,115.5 223.4,112.4C223.5,109.3 222.7,105.1 221.7,102.5C220.7,99.9 219.1,98.0 217.4,96.8C215.7,95.5 213.6,94.8 211.5,94.9C209.4,95.0 206.9,96.2 204.7,97.4C202.4,98.7 200.1,100.8 197.9,102.2C195.6,103.6 193.4,105.1 191.1,105.6C188.8,106.1 184.7,106.0 184.3,105.3ZM179.2,108.5C178.6,108.9 177.3,110.5 177.0,111.5C176.6,112.6 176.6,113.8 177.2,114.9C177.7,116.1 178.8,117.6 180.0,118.3C181.2,119.0 183.0,119.3 184.3,119.2C185.6,119.1 187.3,118.7 188.0,117.8C188.7,117.0 188.9,115.1 188.5,114.1C188.2,113.1 187.0,112.6 186.0,112.1C185.0,111.5 183.5,111.5 182.6,111.0C181.7,110.5 181.1,109.4 180.5,109.0C180.0,108.6 179.8,108.1 179.2,108.5ZM169.0,125.1C169.3,124.5 170.6,124.1 171.5,124.3C172.5,124.4 173.9,125.5 174.9,126.0C175.9,126.5 177.0,126.6 177.5,127.3C178.0,128.1 177.1,129.7 177.8,130.7C178.5,131.8 181.5,133.0 181.7,133.6C182.0,134.3 180.2,134.9 179.2,134.8C178.2,134.7 176.9,133.8 175.8,133.1C174.7,132.4 173.4,131.6 172.4,130.7C171.3,129.9 170.1,129.0 169.5,128.0C168.9,127.1 168.7,125.8 169.0,125.1ZM256.0,143.0C255.7,144.4 254.4,149.2 254.0,151.5C253.5,153.7 253.8,154.9 253.1,156.6C252.4,158.3 251.0,160.0 249.7,161.7C248.4,163.4 246.7,165.4 245.5,166.8C244.2,168.2 243.1,169.0 242.1,170.2C241.1,171.3 240.2,173.3 239.5,173.6C238.8,173.9 238.5,171.6 237.8,171.9C237.1,172.2 236.0,175.0 235.3,175.3C234.5,175.6 234.1,173.1 233.2,173.6C232.4,174.0 231.5,177.3 230.2,177.8C228.8,178.4 226.1,177.7 225.1,177.0C224.1,176.3 223.9,174.3 224.2,173.6C224.5,172.9 227.1,172.9 226.8,172.7C226.5,172.6 224.2,172.4 222.5,172.7C220.8,173.0 219.0,173.9 216.6,174.4C214.2,174.9 211.5,175.3 208.1,175.6C204.7,175.9 199.4,176.5 196.2,176.5C192.9,176.5 190.4,176.2 188.5,175.6C186.7,175.0 185.9,174.1 185.1,172.7C184.3,171.4 183.6,169.2 183.8,167.6C183.9,166.1 184.9,164.5 186.0,163.4C187.1,162.2 188.5,161.6 190.2,160.8C191.9,160.0 194.1,159.1 196.2,158.6C198.3,158.1 201.1,158.2 203.0,157.9C204.8,157.7 207.5,157.5 207.2,157.1C206.9,156.7 203.3,156.4 201.3,155.7C199.3,155.1 196.9,154.3 195.3,153.2C193.8,152.0 193.1,150.2 191.9,148.9C190.8,147.7 190.2,146.0 188.5,145.5C186.8,145.0 183.6,145.6 181.7,146.0C179.9,146.5 177.8,147.3 177.5,148.1C177.2,148.8 179.0,150.2 180.0,150.6C181.0,151.1 182.6,150.2 183.4,150.6C184.3,151.1 185.3,152.4 185.1,153.2C185.0,153.9 183.9,154.7 182.6,155.2C181.3,155.7 178.9,155.9 177.5,156.2C176.1,156.6 174.1,156.9 174.1,157.4C174.1,157.9 176.4,158.6 177.5,159.1C178.6,159.7 180.3,159.8 180.9,160.8C181.5,161.8 181.5,163.5 181.2,165.1C180.9,166.6 180.2,168.6 179.2,170.2C178.1,171.7 175.5,173.3 174.9,174.4C174.4,175.6 175.1,176.3 175.8,177.0C176.5,177.7 178.2,177.5 179.2,178.7C180.2,179.8 180.6,182.3 181.7,183.8C182.9,185.2 184.9,186.5 186.0,187.2C187.1,187.9 188.8,187.4 188.5,188.0C188.3,188.6 185.8,190.0 184.3,190.6C182.7,191.1 180.3,192.0 179.2,191.4C178.1,190.8 177.6,188.4 177.5,187.2C177.3,185.9 178.9,184.3 178.3,183.8C177.8,183.2 175.3,183.3 174.1,183.8C172.9,184.2 171.5,185.3 171.0,186.3C170.5,187.3 170.7,188.7 171.0,189.7C171.4,190.7 173.0,191.0 173.2,192.3C173.5,193.5 172.7,195.4 172.4,197.4C172.1,199.3 171.7,202.9 171.5,204.0M180.9,198.7C181.6,198.6 182.9,200.0 182.9,200.8C183.0,201.5 181.9,203.2 181.2,203.3C180.5,203.4 178.9,202.4 178.8,201.6C178.8,200.8 180.2,198.9 180.9,198.7ZM277.1,92.0C276.6,92.7 275.5,94.8 274.5,96.2C273.5,97.7 272.3,99.1 271.1,100.5C270.0,101.9 268.9,103.3 267.7,104.7C266.6,106.2 265.3,107.4 264.3,109.0C263.3,110.6 262.4,112.1 261.8,114.1C261.1,116.1 260.8,118.6 260.4,120.9C260.0,123.2 259.6,125.4 259.2,127.7C258.8,130.0 258.5,132.4 258.0,134.5C257.6,136.6 256.7,139.0 256.3,140.4C256.0,141.8 256.1,142.6 256.0,143.0M343.7,120.0C344.0,118.9 343.7,116.9 344.5,115.8C345.4,114.7 347.2,113.9 348.8,113.2C350.3,112.6 352.2,112.4 353.9,112.1C355.6,111.7 357.3,111.1 359.0,111.0C360.7,110.9 362.7,111.0 364.1,111.5C365.5,112.1 366.2,113.1 367.5,114.1C368.8,115.1 370.5,116.6 371.7,117.5C373.0,118.3 374.8,118.2 375.1,119.2C375.4,120.2 373.3,122.2 373.4,123.4C373.6,124.7 376.0,126.0 376.0,126.8C376.0,127.7 374.1,128.0 373.4,128.5C372.7,129.1 371.4,129.5 371.7,130.2C372.0,130.9 375.0,131.9 375.1,132.8C375.3,133.6 373.4,134.5 372.6,135.3C371.7,136.1 370.9,137.3 370.0,137.5C369.2,137.7 368.0,137.3 367.5,136.5C366.9,135.7 367.1,133.8 366.6,132.8C366.2,131.7 365.9,130.5 364.9,130.2C363.9,130.0 362.1,130.8 360.7,131.1C359.3,131.4 357.8,132.1 356.4,131.9C355.0,131.8 353.5,130.4 352.2,130.2C350.9,130.1 349.9,131.4 348.8,131.1C347.7,130.8 346.3,129.5 345.7,128.5C345.1,127.5 345.5,126.1 345.0,125.1C344.6,124.1 343.1,123.4 342.8,122.6C342.6,121.7 343.4,121.2 343.7,120.0ZM330.5,211.4C330.8,210.9 331.1,209.1 331.9,208.8C332.7,208.5 334.4,210.0 335.3,209.7C336.1,209.4 336.9,208.3 337.0,207.1C337.1,206.0 335.8,204.3 335.6,202.9C335.5,201.5 336.3,199.6 336.1,198.6C335.9,197.6 334.4,197.6 334.4,196.9C334.4,196.2 335.4,195.1 336.1,194.4C336.9,193.7 338.0,193.4 338.7,192.7C339.4,192.0 339.7,190.8 340.4,190.1C341.1,189.4 342.1,189.3 342.9,188.4C343.8,187.6 344.6,185.9 345.5,185.0C346.3,184.2 347.2,184.2 348.0,183.3C348.9,182.5 349.7,180.1 350.6,179.9C351.4,179.7 352.6,182.3 353.1,182.1C353.7,182.0 354.1,180.4 354.0,179.1C353.8,177.7 352.4,175.7 352.3,174.0C352.1,172.3 352.6,170.2 353.1,168.9C353.7,167.6 354.8,166.6 355.7,166.3C356.5,166.1 357.7,166.3 358.2,167.2C358.8,168.0 358.8,170.3 359.1,171.4C359.4,172.6 359.4,173.8 359.9,174.0C360.5,174.1 362.2,173.0 362.5,172.3C362.8,171.6 361.2,170.2 361.6,169.7C362.1,169.2 364.9,169.7 365.0,169.2C365.2,168.8 363.5,167.8 362.5,167.2C361.5,166.6 359.9,166.3 359.1,165.5C358.3,164.6 357.2,163.0 357.7,162.1C358.3,161.2 360.6,160.6 362.5,160.1C364.4,159.5 367.0,159.3 369.3,159.0C371.5,158.8 374.0,158.7 376.1,158.7C378.2,158.7 380.5,158.7 382.0,159.0C383.6,159.4 384.2,160.4 385.4,160.7C386.7,161.1 388.1,161.6 389.7,161.2C391.2,160.9 393.1,159.5 394.8,158.7C396.5,157.8 398.2,156.9 399.9,156.1C401.6,155.4 403.3,154.6 405.0,154.4C406.7,154.2 408.5,154.5 410.1,155.0C411.6,155.4 412.9,156.4 414.3,157.0C415.7,157.6 416.9,158.4 418.6,158.4C420.2,158.4 423.1,157.2 424.0,157.0M391.4,252.0C391.7,250.9 392.2,247.3 393.1,245.4C393.9,243.4 395.3,242.0 396.5,240.3C397.6,238.6 398.7,236.9 399.9,235.2C401.0,233.5 401.9,231.8 403.3,230.1C404.7,228.4 406.8,226.1 408.4,225.0C409.9,223.8 411.8,224.2 412.6,223.3C413.4,222.4 412.6,220.6 413.1,219.5C413.7,218.5 415.0,217.6 416.0,216.8C417.1,216.0 418.8,215.1 419.4,214.8M423.9,156.9C424.0,156.4 424.0,155.1 424.7,154.0C425.5,153.0 426.9,151.5 428.1,150.6C429.4,149.8 430.8,149.4 432.4,148.9C433.9,148.5 436.2,148.6 437.5,148.1C438.8,147.5 439.2,146.4 440.0,145.5C440.9,144.7 441.6,143.8 442.6,143.0C443.6,142.1 444.7,141.3 446.0,140.4C447.3,139.6 449.0,138.7 450.2,137.9C451.5,137.0 452.5,135.9 453.6,135.3C454.8,134.8 456.0,134.2 457.0,134.5C458.0,134.8 458.9,136.0 459.6,137.0C460.3,138.0 461.1,139.2 461.3,140.4C461.4,141.7 460.1,143.3 460.4,144.7C460.7,146.1 462.4,147.2 463.0,148.9C463.5,150.6 463.8,152.8 463.8,154.9C463.8,157.0 463.5,159.4 463.0,161.7C462.4,163.9 461.4,166.2 460.4,168.5C459.4,170.7 458.2,173.4 457.0,175.3C455.9,177.1 454.8,178.0 453.6,179.5C452.5,181.1 451.2,182.9 450.2,184.6C449.2,186.3 448.5,188.2 447.7,189.7C446.8,191.3 446.3,192.7 445.1,194.0C444.0,195.2 442.4,196.4 440.9,197.4C439.3,198.4 437.8,199.1 435.8,199.9C433.8,200.8 430.8,202.1 429.0,202.5C427.2,202.8 426.0,201.8 424.7,202.1C423.5,202.5 422.2,203.3 421.3,204.5C420.5,205.7 420.1,207.6 419.8,209.3C419.5,211.0 419.5,213.8 419.4,214.7M330.1,210.8C330.2,211.6 331.1,214.2 330.9,215.9C330.8,217.6 330.1,219.3 329.2,221.0C328.4,222.7 327.0,224.5 325.8,226.1C324.7,227.6 323.7,228.9 322.4,230.3C321.2,231.8 319.6,233.2 318.2,234.6C316.8,236.0 314.4,237.6 313.9,238.8C313.5,240.1 314.7,241.4 315.6,242.2C316.6,243.1 318.5,243.9 319.9,243.9C321.3,243.9 322.7,242.7 324.1,242.2C325.6,241.8 328.3,240.8 328.4,241.0C328.5,241.3 326.0,243.0 325.0,243.9C324.0,244.8 322.3,245.9 322.4,246.5C322.6,247.1 324.7,246.5 325.8,247.3C327.0,248.1 329.4,250.8 329.2,251.2C329.1,251.7 326.4,250.1 325.0,249.9C323.6,249.7 321.6,249.3 320.7,249.9C319.9,250.4 319.6,251.9 319.9,253.3C320.2,254.7 321.3,256.8 322.4,258.4C323.6,259.9 325.1,261.6 326.7,262.6C328.3,263.7 330.1,264.3 331.8,264.8C333.5,265.4 335.2,266.1 336.9,266.0C338.6,265.9 340.4,264.4 342.0,264.3C343.5,264.2 345.2,264.7 346.2,265.5C347.2,266.4 347.1,268.3 347.9,269.4C348.8,270.5 350.2,271.4 351.3,272.0C352.5,272.5 353.9,273.0 354.7,272.8C355.6,272.7 355.7,271.3 356.4,271.1C357.1,271.0 358.6,271.8 359.0,272.0M359.0,272.0C360.4,271.7 365.2,270.7 367.5,270.3C369.7,269.8 371.2,269.3 372.6,269.4C374.0,269.6 374.6,270.1 376.0,271.1C377.4,272.1 379.4,275.2 381.1,275.4C382.8,275.5 384.8,273.2 386.2,272.0C387.6,270.7 388.4,268.3 389.6,267.7C390.7,267.2 391.8,269.3 393.0,268.6C394.1,267.9 396.1,265.5 396.4,263.5C396.6,261.5 395.4,258.7 394.7,256.7C394.0,254.7 392.5,252.4 392.1,251.6M359.0,272.3C358.8,272.7 359.0,274.0 358.1,274.5C357.3,275.0 355.2,275.4 353.9,275.4C352.6,275.4 351.3,274.0 350.5,274.5C349.6,275.1 348.9,276.9 348.8,278.8C348.6,280.6 349.1,283.3 349.6,285.6C350.2,287.8 351.1,290.5 352.2,292.4C353.3,294.2 355.0,295.2 356.4,296.6C357.8,298.0 359.1,299.9 360.7,300.9C362.2,301.9 364.2,302.6 365.8,302.6C367.3,302.6 369.0,301.9 370.0,300.9C371.0,299.9 371.7,298.0 371.7,296.6C371.7,295.2 370.7,293.8 370.0,292.4C369.3,290.9 367.6,288.7 367.5,288.1C367.3,287.6 368.5,288.1 369.2,289.0C369.9,289.8 371.0,291.8 371.7,293.2C372.4,294.6 372.7,296.9 373.4,297.5C374.1,298.0 374.7,296.9 376.0,296.6C377.2,296.3 379.4,295.6 381.1,295.8C382.8,295.9 384.5,297.3 386.2,297.5C387.9,297.6 389.6,296.0 391.3,296.6C393.0,297.2 394.8,300.0 396.4,300.9C397.9,301.7 399.6,302.6 400.6,301.7C401.6,300.9 402.2,297.9 402.3,295.8C402.5,293.6 401.7,290.9 401.5,289.0C401.2,287.0 401.5,285.0 400.6,283.9C399.8,282.7 397.9,282.7 396.4,282.2C394.8,281.6 393.0,280.9 391.3,280.5C389.6,280.0 387.9,279.9 386.2,279.6C384.5,279.3 382.8,279.2 381.1,278.8C379.4,278.3 377.7,277.6 376.0,277.1C374.3,276.5 372.6,275.9 370.9,275.4C369.2,274.8 367.8,274.2 365.8,273.7C363.8,273.2 360.1,272.5 359.0,272.3M172.2,204.0C171.8,204.8 170.5,208.1 169.7,209.1C168.8,210.1 167.8,209.1 167.1,209.9C166.4,210.8 166.0,212.4 165.4,214.2C164.9,216.0 164.7,219.7 163.7,221.0C162.7,222.3 160.0,221.1 159.5,221.8C158.9,222.6 159.6,224.3 160.3,225.2C161.0,226.2 162.5,227.4 163.7,227.8C165.0,228.2 166.4,227.9 168.0,227.8C169.5,227.6 171.9,226.7 173.1,226.9C174.2,227.2 175.1,228.4 174.8,229.2C174.5,229.9 172.6,230.6 171.4,231.2C170.1,231.8 168.5,232.2 167.1,232.9C165.7,233.6 164.3,234.4 162.9,235.4C161.5,236.4 160.0,237.7 158.6,238.8C157.2,240.0 155.7,241.4 154.4,242.2C153.1,243.1 152.0,243.5 151.0,243.9C150.0,244.4 148.6,244.6 148.4,245.1C148.3,245.6 149.1,246.6 150.1,246.8C151.1,247.1 153.0,246.8 154.4,246.5C155.8,246.1 157.2,244.9 158.6,244.8C160.0,244.6 161.5,245.0 162.9,245.6C164.3,246.3 165.7,247.5 167.1,248.5C168.5,249.5 170.1,250.5 171.4,251.6C172.6,252.7 173.6,254.0 174.8,255.0C175.9,256.0 177.0,256.7 178.2,257.5C179.3,258.4 180.7,259.2 181.6,260.1C182.5,260.9 183.4,261.8 183.6,262.6C183.8,263.4 183.7,264.4 182.9,264.8C182.2,265.3 180.1,265.4 179.0,265.2C177.9,264.9 177.6,263.9 176.5,263.5C175.3,263.1 173.6,263.0 172.2,262.6C170.8,262.3 169.5,261.7 168.0,261.4C166.4,261.2 164.4,261.4 162.9,260.9C161.3,260.4 160.0,258.9 158.6,258.4C157.2,257.9 155.8,258.3 154.4,258.0C153.0,257.8 151.4,256.9 150.1,257.0C148.9,257.1 148.0,258.5 146.7,258.7C145.5,258.9 143.8,258.5 142.5,258.0C141.2,257.6 140.1,256.6 139.1,255.8C138.1,255.0 137.2,254.4 136.5,253.3C135.8,252.1 135.4,250.2 134.8,249.0C134.3,247.8 133.8,246.3 133.1,246.1C132.4,245.9 130.7,246.8 130.6,247.8C130.4,248.9 131.6,251.0 132.3,252.4C133.0,253.9 133.8,255.4 134.8,256.7C135.8,258.0 137.0,259.3 138.2,260.1C139.5,260.9 141.1,261.2 142.5,261.4C143.9,261.7 145.7,261.3 146.7,261.8C147.7,262.3 147.9,264.3 148.4,264.3C149.0,264.3 149.1,262.3 150.1,261.8C151.1,261.3 153.0,261.0 154.4,261.4C155.8,261.9 157.2,263.7 158.6,264.3C160.0,264.9 161.3,264.9 162.9,265.2C164.4,265.5 166.3,265.5 168.0,266.0C169.7,266.6 171.5,268.0 173.1,268.6C174.6,269.1 176.4,269.0 177.3,269.4C178.2,269.8 178.9,270.8 178.5,271.1C178.1,271.5 176.1,271.7 174.8,271.6C173.4,271.5 171.8,271.0 170.5,270.6C169.2,270.2 168.2,269.3 167.1,269.4C166.1,269.5 164.9,270.4 164.2,271.1C163.5,271.8 163.3,272.8 162.9,273.7C162.4,274.5 161.4,275.9 161.5,276.2C161.7,276.5 162.9,275.9 163.7,275.4C164.5,274.8 165.3,273.2 166.3,272.8C167.3,272.4 169.4,272.4 169.7,272.8C170.0,273.2 167.7,274.8 168.0,275.4C168.3,275.9 170.5,275.7 171.4,276.2C172.2,276.8 173.2,277.9 173.1,278.8C172.9,279.6 171.5,280.6 170.5,281.3C169.5,282.0 168.0,282.3 167.1,283.0C166.3,283.7 165.4,284.9 165.4,285.6C165.4,286.3 166.4,287.3 167.1,287.3C167.8,287.3 169.0,286.2 169.7,285.6C170.4,284.9 170.4,284.0 171.4,283.5C172.4,283.1 174.3,283.0 175.6,283.0C176.9,283.1 178.3,282.9 179.0,283.9C179.7,284.9 179.6,287.3 179.9,289.0C180.2,290.7 180.3,292.6 180.7,294.1C181.1,295.5 181.6,297.0 182.4,297.5C183.3,298.0 184.8,296.8 185.8,297.1C186.8,297.4 187.5,298.1 188.4,299.2C189.2,300.2 189.9,302.0 190.9,303.4C191.9,304.8 193.3,306.1 194.3,307.7C195.3,309.2 196.2,311.4 196.9,312.8C197.6,314.1 198.3,315.4 198.6,316.0M178.0,224.3C178.6,223.3 180.7,220.8 182.6,219.8C184.5,218.7 187.5,218.0 189.4,218.2C191.4,218.4 192.7,219.5 194.0,220.9C195.4,222.3 196.1,224.5 197.5,226.6C198.8,228.7 200.7,231.2 202.0,233.5C203.4,235.8 204.3,237.9 205.5,240.4C206.6,242.8 207.9,245.9 208.9,248.4C209.8,250.8 210.7,252.9 211.2,255.2C211.6,257.5 211.8,260.1 211.6,262.1C211.4,264.1 210.8,266.2 210.0,267.1C209.3,268.1 207.8,268.5 207.1,267.8C206.3,267.2 205.9,265.1 205.5,263.2C205.0,261.3 204.9,258.7 204.3,256.4C203.7,254.1 203.0,251.8 202.0,249.5C201.1,247.2 199.9,244.9 198.6,242.6C197.3,240.4 195.5,237.9 194.0,235.8C192.5,233.7 191.2,231.6 189.4,230.1C187.7,228.5 185.4,227.3 183.7,226.6C182.0,225.9 180.1,226.3 179.2,225.9C178.2,225.6 177.4,225.4 178.0,224.3ZM262.6,217.5C263.0,216.5 264.9,215.0 266.1,215.2C267.2,215.4 268.6,217.5 269.5,218.6C270.5,219.8 271.6,223.4 271.8,222.1C272.0,220.7 270.7,213.1 270.7,210.6C270.7,208.1 271.0,207.6 271.8,207.2C272.6,206.8 273.9,206.8 275.2,208.3C276.6,209.9 278.3,213.9 279.8,216.3C281.3,218.8 283.4,221.1 284.4,223.2C285.3,225.3 285.9,227.8 285.5,228.9C285.1,230.1 283.4,230.1 282.1,230.1C280.8,230.1 278.5,228.3 277.5,228.9C276.6,229.5 277.3,232.2 276.4,233.5C275.4,234.8 273.3,236.4 271.8,236.9C270.3,237.5 268.2,237.7 267.2,236.9C266.3,236.2 265.9,233.7 266.1,232.4C266.3,231.0 267.4,229.9 268.4,228.9C269.3,228.0 272.0,227.6 271.8,226.6C271.6,225.7 268.6,224.2 267.2,223.2C265.9,222.2 264.6,221.9 263.8,220.9C263.0,220.0 262.3,218.4 262.6,217.5ZM245.5,254.1C245.9,253.3 247.9,252.8 248.9,252.9C250.0,253.1 251.5,254.4 251.7,255.2C251.9,256.1 250.9,257.6 250.1,258.0C249.2,258.4 247.4,258.2 246.6,257.5C245.9,256.9 245.1,254.8 245.5,254.1ZM238.6,263.2C239.0,262.2 241.2,261.4 242.1,261.6C242.9,261.8 242.9,263.7 243.7,264.4C244.4,265.0 245.9,264.6 246.6,265.5C247.3,266.5 248.2,269.1 247.8,270.1C247.4,271.1 245.2,271.5 244.3,271.2C243.5,271.0 243.5,269.1 242.7,268.5C242.0,267.9 240.5,268.7 239.8,267.8C239.1,266.9 238.2,264.3 238.6,263.2ZM238.6,272.4C239.0,271.8 241.3,271.9 242.1,272.4C242.8,272.9 243.6,274.8 243.2,275.4C242.8,275.9 240.5,276.3 239.8,275.8C239.0,275.3 238.2,273.0 238.6,272.4ZM179.5,290.0C179.8,290.8 180.3,293.8 181.2,295.1C182.2,296.4 184.1,296.8 185.5,297.6C186.9,298.5 188.5,298.8 189.7,300.2C191.0,301.6 192.0,304.3 193.1,306.1C194.3,308.0 195.7,309.5 196.5,311.2C197.4,312.9 197.5,314.9 198.2,316.3C198.9,317.8 199.7,318.9 200.8,319.7C201.9,320.6 203.6,320.9 205.0,321.4C206.4,322.0 208.0,322.3 209.3,323.1C210.6,324.0 212.5,325.7 212.7,326.5C212.8,327.4 210.7,327.4 210.1,328.2C209.6,329.1 210.0,330.8 209.3,331.6C208.6,332.5 206.2,332.5 205.9,333.3C205.6,334.2 207.1,335.5 207.6,336.7C208.1,338.0 208.9,339.7 208.9,341.0C208.9,342.3 208.4,343.4 207.6,344.4C206.8,345.4 205.5,346.3 204.2,346.9C202.9,347.6 201.4,348.1 199.9,348.1C198.5,348.1 197.1,347.4 195.7,346.9C194.3,346.4 192.9,345.9 191.4,345.2C190.0,344.6 188.5,343.7 187.2,343.0C185.9,342.3 184.9,341.4 183.8,341.0C182.7,340.6 180.9,340.2 180.7,340.6C180.6,341.1 182.0,342.6 182.9,343.5C183.9,344.4 185.2,345.5 186.3,346.1C187.5,346.6 189.3,346.2 189.7,346.9C190.2,347.6 188.6,349.6 188.9,350.3C189.2,351.0 190.7,351.5 191.4,351.2C192.1,350.9 192.6,348.8 193.1,348.6C193.7,348.5 195.1,349.6 194.8,350.3C194.6,351.0 192.3,352.0 191.4,352.9C190.6,353.7 189.6,354.6 189.7,355.4C189.9,356.3 191.6,357.0 192.3,358.0C193.0,359.0 194.0,360.2 194.0,361.4C194.0,362.5 192.7,363.6 192.3,364.8C191.9,365.9 191.3,367.0 191.4,368.2C191.6,369.3 192.3,370.7 193.1,371.6C194.0,372.4 195.4,373.1 196.5,373.3C197.7,373.4 199.1,371.9 199.9,372.4C200.8,373.0 201.2,375.1 201.6,376.7C202.1,378.2 202.5,380.1 202.5,381.8C202.5,383.5 202.3,385.6 201.6,386.9C200.9,388.1 199.4,388.7 198.2,389.4C197.1,390.1 195.7,390.1 194.8,391.1C194.0,392.1 193.1,394.1 193.1,395.4C193.1,396.6 194.0,398.3 194.8,398.8C195.7,399.2 197.2,398.3 198.2,397.9C199.2,397.5 200.1,395.8 200.8,396.2C201.5,396.6 201.8,399.5 202.5,400.5C203.2,401.4 204.6,401.7 205.0,402.0M219.5,318.0C218.8,317.3 218.2,315.3 218.6,313.8C219.1,312.2 220.9,310.0 222.0,308.7C223.2,307.4 224.2,306.6 225.4,306.1C226.7,305.7 228.3,305.9 229.7,306.1C231.1,306.4 232.9,307.1 233.9,307.8C234.9,308.6 235.9,309.5 235.6,310.4C235.3,311.2 233.4,312.2 232.2,312.9C231.1,313.6 229.8,313.9 228.8,314.6C227.8,315.3 227.3,316.6 226.3,317.2C225.3,317.8 224.0,317.9 222.9,318.0C221.7,318.2 220.2,318.7 219.5,318.0ZM213.5,318.9C214.0,318.2 216.4,319.1 217.8,319.2C219.2,319.4 221.0,319.2 222.0,319.7C223.0,320.2 223.9,321.3 223.7,322.3C223.6,323.3 222.2,325.0 221.2,325.7C220.2,326.4 218.8,327.0 217.8,326.5C216.8,326.1 215.9,324.4 215.2,323.1C214.5,321.9 213.1,319.5 213.5,318.9ZM226.3,385.2C226.8,384.2 227.7,382.5 228.8,381.8C230.0,381.1 231.9,380.6 233.1,380.9C234.2,381.2 234.6,382.6 235.6,383.5C236.6,384.3 238.4,384.9 239.0,386.0C239.7,387.1 239.8,389.0 239.5,390.3C239.2,391.5 238.3,393.2 237.3,393.7C236.4,394.1 234.9,393.4 233.9,392.8C232.9,392.2 232.4,390.8 231.4,390.3C230.4,389.7 228.9,389.8 228.0,389.4C227.1,389.0 226.2,388.4 225.9,387.7C225.7,387.0 225.8,386.2 226.3,385.2ZM225.4,395.4C225.9,394.4 227.2,395.1 227.6,396.2C228.1,397.3 228.5,401.0 228.0,402.0C227.5,402.9 225.0,403.1 224.6,402.0C224.2,400.9 224.9,396.3 225.4,395.4ZM242.4,393.7C243.0,393.8 244.0,395.1 245.0,396.2C246.0,397.3 248.2,399.5 248.4,400.5C248.5,401.4 246.7,402.3 245.8,402.0C245.0,401.7 244.0,399.9 243.3,398.8C242.6,397.7 241.7,396.2 241.6,395.4C241.4,394.5 241.9,393.5 242.4,393.7ZM203.5,380.0C203.4,380.8 203.7,383.7 203.0,385.1C202.3,386.5 200.5,387.3 199.3,388.2C198.0,389.0 196.5,389.1 195.5,390.2C194.6,391.2 193.6,393.0 193.3,394.4C193.1,395.9 193.3,398.6 194.2,399.0C195.0,399.5 197.2,397.5 198.4,397.0C199.7,396.5 201.1,395.6 201.8,396.1C202.5,396.7 202.1,399.3 202.7,400.4C203.2,401.5 204.4,402.9 205.2,402.9C206.1,402.9 207.1,400.0 207.8,400.4C208.5,400.8 208.5,403.8 209.5,405.5C210.5,407.1 212.7,410.2 213.7,410.2C214.7,410.2 214.6,406.6 215.4,405.5C216.3,404.4 217.8,403.8 218.8,403.8C219.8,403.8 220.4,404.8 221.4,405.5C222.4,406.2 223.5,406.9 224.8,408.0C226.0,409.2 227.6,410.9 229.0,412.3C230.4,413.7 232.3,415.1 233.3,416.5C234.3,418.0 234.8,419.5 235.0,420.8C235.1,422.1 233.8,423.1 234.1,424.2C234.4,425.3 236.1,426.4 236.7,427.6C237.2,428.7 236.7,430.2 237.5,431.0C238.4,431.8 240.3,431.8 241.8,432.3C243.2,432.9 244.6,433.5 246.0,434.4C247.4,435.3 249.3,436.4 250.3,437.8C251.3,439.2 251.8,441.3 252.0,442.9C252.1,444.4 250.8,446.1 251.1,447.1C251.5,448.1 253.5,448.5 254.0,448.8M223.9,398.7C224.1,397.8 225.7,397.6 226.5,397.8C227.2,398.1 228.3,399.4 228.5,400.4C228.7,401.4 228.3,403.4 227.8,403.8C227.3,404.2 226.3,403.8 225.6,402.9C225.0,402.1 223.8,399.5 223.9,398.7ZM241.8,395.3C242.0,394.7 243.3,393.7 244.3,394.4C245.3,395.2 247.0,398.3 247.7,399.5C248.4,400.8 249.0,401.8 248.6,402.1C248.1,402.4 246.2,401.9 245.2,401.2C244.2,400.5 243.2,398.8 242.6,397.8C242.0,396.9 241.5,395.9 241.8,395.3ZM254.0,448.7C255.0,448.7 258.4,448.6 260.1,448.7C261.8,448.8 262.9,448.7 264.3,449.2C265.7,449.8 267.3,451.6 268.6,451.8C269.8,451.9 271.0,450.1 272.0,450.1C273.0,450.1 274.5,450.9 274.5,451.8C274.5,452.6 272.1,453.9 272.0,455.2C271.8,456.5 272.8,458.7 273.7,459.4C274.5,460.1 276.3,460.1 277.1,459.4C277.9,458.7 278.3,456.6 278.4,455.2C278.6,453.8 277.2,451.5 277.9,450.9C278.7,450.4 281.2,451.4 283.0,451.8C284.9,452.2 287.0,452.9 289.0,453.5C290.9,454.1 292.9,454.3 294.9,455.2C296.9,456.0 299.2,457.3 300.9,458.6C302.6,459.9 303.9,461.8 305.1,462.8C306.3,463.9 307.5,464.7 308.0,465.0M299.2,444.1C299.4,443.4 300.6,442.2 301.7,441.6C302.8,441.0 304.8,440.6 306.0,440.7C307.1,440.9 308.4,441.7 308.5,442.4C308.7,443.2 307.7,444.3 306.8,445.0C306.0,445.7 304.5,446.5 303.4,446.7C302.3,446.9 300.7,446.8 300.0,446.4C299.3,445.9 298.9,444.9 299.2,444.1ZM204.0,511.3C204.8,510.7 207.4,508.9 209.1,507.9C210.8,506.9 212.4,506.3 214.2,505.3C216.0,504.3 218.3,502.3 220.1,501.9C222.0,501.5 223.4,502.2 225.2,502.8C227.1,503.3 230.5,504.3 231.2,505.3C231.9,506.3 230.1,507.4 229.5,508.7C228.9,510.0 227.4,512.4 227.8,513.0C228.2,513.5 230.5,512.7 232.0,512.1C233.6,511.6 235.7,510.4 237.1,509.6C238.6,508.7 239.5,508.0 240.5,507.0C241.5,506.0 242.1,504.4 243.1,503.6C244.1,502.9 245.6,502.3 246.5,502.4C247.4,502.6 248.7,503.7 248.5,504.5C248.4,505.2 246.4,506.0 245.6,507.0C244.9,508.0 244.8,509.3 243.9,510.4C243.1,511.6 241.8,512.8 240.5,513.8C239.3,514.8 237.8,515.5 236.3,516.4C234.7,517.2 232.7,517.9 231.2,518.9C229.6,519.9 228.5,521.2 226.9,522.3C225.4,523.4 223.5,524.7 221.8,525.7C220.1,526.7 218.4,527.6 216.7,528.3C215.0,529.0 213.2,529.5 211.6,530.0C210.1,530.4 208.7,530.1 207.4,530.8C206.1,531.5 204.6,533.6 204.0,534.2M234.6,532.5C235.0,532.1 236.1,530.8 237.1,530.0C238.1,529.1 239.3,528.3 240.5,527.4C241.8,526.6 243.2,525.6 244.8,524.9C246.3,524.2 248.2,523.6 249.9,523.2C251.6,522.7 253.3,522.3 255.0,522.3C256.7,522.3 258.7,522.6 260.1,523.2C261.5,523.7 262.5,525.0 263.5,525.7C264.5,526.4 265.0,527.6 266.0,527.4C267.0,527.3 268.2,525.7 269.4,524.9C270.7,524.0 272.1,523.3 273.7,522.3C275.2,521.3 277.1,520.0 278.8,518.9C280.5,517.8 282.2,516.5 283.9,515.5C285.6,514.5 287.3,513.6 289.0,513.0C290.7,512.3 292.6,512.0 294.1,511.6C295.5,511.2 296.6,511.3 297.5,510.4C298.3,509.5 299.2,507.7 299.2,506.2C299.2,504.6 298.0,502.5 297.5,501.1C296.9,499.7 296.3,498.8 295.8,497.7C295.2,496.5 293.9,495.1 294.1,494.3C294.2,493.4 295.5,493.0 296.6,492.6C297.7,492.2 299.7,492.6 300.9,491.7C302.0,490.9 302.8,489.0 303.4,487.5C304.0,485.9 303.7,483.4 304.3,482.4C304.8,481.4 306.2,481.0 306.8,481.5C307.4,482.1 307.8,485.1 308.0,485.8M308.0,465.0C308.7,465.5 310.8,466.9 312.2,467.9C313.7,469.0 315.2,470.3 316.5,471.3C317.8,472.3 318.5,473.5 319.9,473.9C321.3,474.3 323.4,473.6 325.0,473.9C326.6,474.2 327.9,474.7 329.2,475.6C330.6,476.4 332.7,477.8 333.2,479.0C333.6,480.1 332.4,481.4 331.8,482.4C331.1,483.4 329.9,483.9 329.2,484.9C328.6,485.9 328.5,487.1 328.1,488.3C327.6,489.6 327.2,491.4 326.7,492.6C326.2,493.7 325.8,495.0 325.0,495.1C324.1,495.3 322.9,494.3 321.6,493.4C320.3,492.6 318.8,491.0 317.3,490.0C315.9,489.0 314.7,488.0 313.1,487.5C311.5,486.9 308.8,486.8 308.0,486.6M331.8,500.2C332.1,499.7 333.9,499.4 335.2,499.4C336.5,499.4 338.4,499.8 339.4,500.2C340.4,500.6 341.4,501.4 341.1,501.9C340.9,502.4 339.0,503.0 337.7,503.1C336.5,503.2 334.5,502.9 333.5,502.4C332.5,501.9 331.5,500.7 331.8,500.2ZM376.0,428.0C375.1,428.3 372.6,429.3 370.9,429.7C369.2,430.1 367.8,430.4 365.8,430.5C363.8,430.7 360.4,430.0 359.0,430.5C357.6,431.1 358.3,432.8 357.3,433.9C356.3,435.1 354.3,436.1 353.0,437.3C351.8,438.6 350.5,440.0 349.6,441.6C348.8,443.2 348.5,445.0 347.9,446.7C347.4,448.4 347.1,450.4 346.2,451.8C345.4,453.2 343.7,454.2 342.8,455.2C342.0,456.2 341.3,456.7 341.1,457.7C341.0,458.7 341.1,460.1 342.0,461.1C342.8,462.1 344.7,462.8 346.2,463.7C347.8,464.5 349.8,465.4 351.3,466.2C352.9,467.1 354.4,468.1 355.6,468.8C356.7,469.5 357.8,469.6 358.1,470.5C358.4,471.3 358.1,473.2 357.3,473.9C356.4,474.6 354.2,474.9 353.0,474.7C351.9,474.6 351.3,473.2 350.5,473.0C349.6,472.9 348.8,473.2 347.9,473.9C347.1,474.6 346.2,476.1 345.4,477.3C344.5,478.4 343.4,479.7 342.8,480.7C342.3,481.7 341.6,482.7 342.0,483.2C342.4,483.8 344.4,483.4 345.4,484.1C346.4,484.8 346.8,486.9 347.9,487.5C349.1,488.0 350.8,487.6 352.2,487.5C353.6,487.3 355.0,487.1 356.4,486.6C357.8,486.2 359.4,485.6 360.7,484.9C362.0,484.2 363.1,482.1 364.1,482.4C365.1,482.7 366.1,485.1 366.6,486.6C367.2,488.2 367.9,490.5 367.5,491.7C367.1,493.0 365.2,493.6 364.1,494.3C362.9,495.0 362.0,495.3 360.7,496.0C359.4,496.7 357.3,497.4 356.4,498.5C355.6,499.7 355.4,501.2 355.6,502.8C355.7,504.3 356.7,506.2 357.3,507.9C357.8,509.6 358.3,511.4 359.0,513.0C359.7,514.5 360.5,515.9 361.5,517.2C362.5,518.5 365.1,519.9 364.9,520.6C364.8,521.3 362.1,521.3 360.7,521.5C359.3,521.6 357.7,521.2 356.4,521.5C355.2,521.7 352.9,522.6 353.0,523.2C353.2,523.7 355.7,524.9 357.3,524.9C358.8,524.9 361.0,523.2 362.4,523.2C363.8,523.2 364.6,524.9 365.8,524.9C366.9,524.9 368.0,523.9 369.2,523.2C370.3,522.5 371.4,520.6 372.6,520.6C373.7,520.6 374.8,522.2 376.0,523.2C377.1,524.2 378.0,526.1 379.4,526.6C380.8,527.0 382.8,526.0 384.5,525.7C386.2,525.4 388.2,525.4 389.6,524.9C391.0,524.3 392.0,522.2 393.0,522.3C394.0,522.5 394.9,524.2 395.5,525.7C396.1,527.3 396.4,529.8 396.4,531.7C396.4,533.5 395.7,535.9 395.5,536.8M412.0,490.9C411.4,491.2 409.2,491.4 408.3,492.6C407.4,493.7 406.7,496.0 406.6,497.7C406.4,499.4 407.4,501.1 407.4,502.8C407.4,504.5 406.8,505.9 406.6,507.9C406.3,509.9 406.0,512.4 405.7,514.7C405.4,516.9 405.3,519.2 404.9,521.5C404.4,523.7 403.9,525.7 403.2,528.3C402.5,530.8 401.0,535.3 400.6,536.8M412.0,507.9C412.4,507.3 413.6,505.6 414.5,504.5C415.5,503.3 417.2,502.5 417.9,501.1C418.7,499.7 418.8,497.8 418.8,496.0C418.8,494.1 417.7,491.3 417.9,490.0C418.2,488.8 419.2,488.8 420.5,488.3C421.8,487.9 423.9,487.8 425.6,487.5C427.3,487.2 429.0,487.1 430.7,486.6C432.4,486.2 434.2,485.6 435.8,484.9C437.3,484.2 438.6,483.1 440.0,482.4C441.5,481.7 442.9,481.2 444.3,480.7C445.7,480.1 447.5,479.7 448.5,479.0C449.6,478.3 450.0,476.6 450.7,476.4C451.5,476.3 451.7,477.8 452.8,478.1C453.8,478.5 455.6,478.6 457.0,478.6C458.4,478.6 459.9,478.2 461.3,478.1C462.7,478.0 464.3,478.3 465.5,478.1C466.8,478.0 467.9,477.6 468.9,477.3C469.9,477.0 470.5,476.3 471.5,476.4C472.5,476.6 473.6,477.6 474.9,478.1C476.2,478.7 477.7,479.2 479.1,479.8C480.5,480.5 482.3,481.5 483.4,482.0C484.4,482.6 485.7,483.7 485.4,483.2C485.1,482.7 483.0,480.3 481.7,479.0C480.3,477.7 478.7,476.4 477.4,475.6C476.2,474.7 475.2,474.7 474.0,473.9C472.9,473.0 470.5,470.7 470.6,470.5C470.8,470.3 473.5,471.8 474.9,472.5C476.3,473.2 477.8,474.1 479.1,474.7C480.4,475.4 481.8,476.7 482.5,476.4C483.2,476.1 482.7,473.5 483.4,473.0C484.1,472.6 486.6,473.0 486.8,473.5C486.9,474.1 484.5,475.5 484.2,476.4C483.9,477.3 484.2,478.3 485.1,479.0C485.9,479.7 487.9,480.3 489.3,480.7C490.7,481.1 492.0,481.2 493.6,481.5C495.1,481.8 497.3,482.3 498.7,482.4C500.1,482.5 502.3,482.6 502.1,482.0C501.8,481.5 498.8,479.7 497.0,479.0C495.1,478.2 491.3,478.2 491.0,477.6C490.7,477.1 493.7,475.6 495.3,475.6C496.8,475.5 498.4,476.9 500.4,477.3C502.3,477.7 505.9,478.0 507.0,478.1M412.0,516.4C412.6,516.6 414.4,517.2 415.4,518.1C416.4,518.9 417.8,520.0 417.9,521.5C418.1,522.9 417.0,525.1 416.2,526.6C415.5,528.0 414.4,529.3 413.7,530.0C413.0,530.7 412.3,530.7 412.0,530.8M418.8,318.5C419.8,317.8 421.9,317.1 423.9,316.8C425.9,316.6 428.7,316.6 430.7,316.8C432.7,317.1 434.5,317.6 435.8,318.5C437.1,319.5 438.3,321.7 438.3,322.8C438.3,323.9 436.9,324.8 435.8,325.3C434.7,325.9 432.7,325.5 431.5,326.2C430.4,326.9 430.0,329.2 429.0,329.6C428.0,330.0 426.6,329.5 425.6,328.7C424.6,328.0 424.0,326.1 423.0,325.3C422.1,324.6 420.5,325.2 419.6,324.5C418.8,323.8 418.1,322.1 417.9,321.1C417.8,320.1 417.8,319.3 418.8,318.5ZM417.9,333.0C418.2,332.4 420.6,334.1 422.2,334.7C423.8,335.3 425.3,336.0 427.3,336.4C429.3,336.8 432.0,337.4 434.1,337.2C436.2,337.1 438.3,336.4 440.0,335.5C441.7,334.7 443.0,333.1 444.3,332.1C445.6,331.2 446.6,329.7 447.7,329.6C448.8,329.5 450.1,330.4 451.1,331.3C452.1,332.1 453.1,333.4 453.6,334.7C454.2,336.0 454.6,337.5 454.5,338.9C454.3,340.4 453.5,342.1 452.8,343.2C452.1,344.3 450.4,344.7 450.2,345.7C450.1,346.7 451.5,347.9 451.9,349.1C452.4,350.4 452.8,351.8 452.8,353.4C452.8,354.9 452.4,356.9 451.9,358.5C451.5,360.0 451.1,361.6 450.2,362.7C449.4,363.9 448.0,365.0 446.8,365.3C445.7,365.6 444.4,364.1 443.4,364.4C442.4,364.7 441.9,366.3 440.9,367.0C439.9,367.7 438.5,369.0 437.5,368.7C436.5,368.4 435.2,366.7 434.9,365.3C434.7,363.9 436.2,360.6 435.8,360.2C435.4,359.8 433.5,361.7 432.4,362.7C431.3,363.7 430.3,365.3 429.0,366.1C427.7,367.0 426.2,367.8 424.7,367.8C423.3,367.8 421.8,367.0 420.5,366.1C419.2,365.3 418.1,364.1 417.1,362.7C416.1,361.3 414.8,359.3 414.5,357.6C414.3,355.9 414.5,353.5 415.4,352.5C416.2,351.5 419.1,352.5 419.6,351.7C420.2,350.8 418.4,348.6 418.8,347.4C419.2,346.3 421.3,345.9 422.2,344.9C423.0,343.9 424.2,342.6 423.9,341.5C423.6,340.4 421.5,339.5 420.5,338.1C419.5,336.7 417.7,333.6 417.9,333.0ZM451.1,322.8C451.9,322.2 454.2,320.1 456.2,319.4C458.2,318.7 461.0,318.5 463.0,318.5C465.0,318.5 467.5,318.8 468.1,319.4C468.6,320.0 467.5,321.1 466.4,321.9C465.2,322.8 462.7,323.9 461.3,324.5C459.9,325.1 457.6,325.1 457.9,325.3C458.2,325.6 461.4,325.6 463.0,326.2C464.5,326.8 466.5,327.3 467.2,328.7C467.9,330.2 467.7,333.0 467.2,334.7C466.8,336.4 465.8,337.8 464.7,338.9C463.5,340.1 462.0,340.8 460.4,341.5C458.9,342.2 456.5,342.5 455.3,343.2C454.2,343.9 453.4,344.6 453.6,345.7C453.9,346.9 455.8,348.7 457.0,350.0C458.3,351.3 461.0,352.4 461.3,353.4C461.6,354.4 459.6,355.1 458.7,355.9C457.9,356.8 456.6,357.2 456.2,358.5C455.8,359.8 456.9,362.2 456.5,363.6C456.1,365.0 454.3,365.6 453.6,367.0C453.0,368.4 453.4,371.5 452.8,372.1C452.2,372.6 450.7,370.7 450.2,370.4M412.0,355.9C412.3,356.6 413.1,358.6 413.7,360.2C414.3,361.7 414.4,363.9 415.4,365.3C416.4,366.7 418.8,367.3 419.6,368.7C420.5,370.1 420.5,372.1 420.5,373.8C420.5,375.5 419.4,378.3 419.6,378.9C419.9,379.4 420.9,377.7 422.2,377.2C423.5,376.6 425.6,376.2 427.3,375.5C429.0,374.8 430.7,373.7 432.4,372.9C434.1,372.1 435.8,371.4 437.5,370.7C439.2,370.0 441.0,369.3 442.6,368.7C444.1,368.1 445.6,366.7 446.8,367.0C448.1,367.3 449.7,369.8 450.2,370.4M419.6,378.9C418.9,379.1 416.7,380.1 415.4,380.2C414.1,380.4 412.6,379.8 412.0,379.7M430.7,384.8C430.1,385.2 428.4,386.4 427.3,387.4C426.2,388.4 425.3,389.9 423.9,390.8C422.5,391.6 419.9,391.3 418.8,392.5C417.7,393.6 417.8,395.9 417.1,397.6C416.4,399.3 415.1,400.8 414.5,402.7C414.0,404.5 414.1,407.8 413.7,408.6C413.3,409.5 412.3,407.9 412.0,407.8M452.8,385.7C453.6,385.0 455.9,383.8 457.0,384.0C458.2,384.1 458.6,386.2 459.6,386.5C460.6,386.8 462.6,385.1 463.0,385.7C463.4,386.2 461.8,388.8 462.1,389.9C462.4,391.1 464.5,391.5 464.7,392.5C464.8,393.5 463.0,394.7 463.0,395.9C463.0,397.0 465.0,398.8 464.7,399.3C464.4,399.7 462.0,397.7 461.3,398.4C460.6,399.1 461.0,402.5 460.4,403.5C459.9,404.5 458.6,404.9 457.9,404.4C457.2,403.8 456.9,401.3 456.2,400.1C455.5,399.0 454.6,396.7 453.6,397.6C452.6,398.4 450.9,404.6 450.2,405.2C449.5,405.8 449.2,402.5 449.4,401.0C449.5,399.4 451.0,397.6 451.1,395.9C451.1,394.2 449.6,392.0 449.7,390.8C449.9,389.5 451.4,389.1 451.9,388.2C452.4,387.4 451.9,386.4 452.8,385.7ZM495.3,369.5C495.9,369.2 496.8,370.9 497.0,372.1C497.1,373.2 495.8,375.1 496.1,376.3C496.4,377.6 497.8,378.5 498.7,379.7C499.5,381.0 500.2,382.7 501.2,384.0C502.2,385.2 504.0,386.1 504.6,387.4C505.3,388.6 505.4,390.2 505.1,391.6C504.8,393.0 503.7,394.6 502.9,395.9C502.1,397.1 501.4,398.6 500.4,399.3C499.4,400.0 497.7,400.7 497.0,400.1C496.3,399.6 496.8,397.1 496.1,395.9C495.4,394.6 493.7,393.5 492.7,392.5C491.8,391.5 490.4,390.9 490.5,389.9C490.7,388.9 492.8,387.7 493.6,386.5C494.4,385.4 495.3,384.4 495.3,383.1C495.3,381.8 493.9,380.4 493.6,378.9C493.2,377.3 492.9,375.3 493.2,373.8C493.5,372.2 494.6,369.8 495.3,369.5ZM454.5,218.4C455.2,217.7 456.5,217.0 457.9,216.7C459.3,216.5 461.4,216.5 463.0,216.7C464.5,217.0 466.1,217.7 467.2,218.4C468.4,219.2 469.6,220.0 469.8,221.0C469.9,222.0 468.8,223.1 468.1,224.4C467.4,225.7 466.1,227.4 465.5,228.6C465.0,229.9 464.3,231.6 464.7,232.0C465.1,232.5 466.9,231.9 468.1,231.2C469.2,230.5 470.5,229.1 471.5,227.8C472.5,226.5 473.0,225.0 474.0,223.5C475.0,222.1 476.2,220.7 477.4,219.3C478.7,217.9 480.4,216.0 481.7,215.0C482.9,214.1 484.2,213.1 485.1,213.3C485.9,213.6 486.6,215.3 486.8,216.7C486.9,218.2 486.2,220.3 485.9,221.8C485.6,223.4 484.8,225.8 485.1,226.1C485.4,226.4 486.8,224.7 487.6,223.5C488.5,222.4 489.2,220.6 490.2,219.3C491.2,218.0 492.6,216.2 493.6,215.9C494.6,215.6 495.8,216.2 496.1,217.6C496.4,219.0 495.6,222.1 495.3,224.4C495.0,226.7 494.8,229.1 494.4,231.2C494.0,233.3 493.6,235.3 492.7,237.1C491.9,239.0 490.2,240.5 489.3,242.2C488.5,243.9 488.0,245.6 487.6,247.3C487.2,249.0 486.5,250.9 486.8,252.4C487.1,254.0 488.8,255.3 489.3,256.7C489.9,258.1 490.6,259.8 490.2,260.9C489.7,262.1 487.9,263.5 486.8,263.5C485.6,263.5 484.4,262.1 483.4,260.9C482.4,259.8 481.4,258.1 480.8,256.7C480.3,255.3 480.7,253.6 480.0,252.4C479.3,251.3 477.7,249.9 476.6,249.9C475.4,249.9 474.6,252.3 473.2,252.4C471.8,252.6 469.8,251.2 468.1,250.7C466.4,250.3 464.5,249.6 463.0,249.9C461.4,250.2 460.0,251.3 458.7,252.4C457.5,253.6 456.3,255.3 455.3,256.7C454.3,258.1 452.8,259.8 452.8,260.9C452.8,262.1 455.5,262.6 455.3,263.5C455.2,264.3 453.2,265.0 451.9,266.0C450.7,267.0 448.3,268.2 447.7,269.4C447.1,270.7 448.1,272.1 448.5,273.7C449.0,275.2 450.2,277.1 450.2,278.8C450.2,280.5 449.5,282.5 448.5,283.9C447.5,285.3 445.7,286.4 444.3,287.3C442.9,288.1 441.5,288.3 440.0,289.0C438.6,289.7 437.3,290.9 435.8,291.5C434.2,292.1 432.4,292.4 430.7,292.4C429.0,292.4 427.0,292.1 425.6,291.5C424.2,290.9 423.0,290.0 422.2,289.0C421.3,288.0 420.5,286.6 420.5,285.6C420.5,284.6 421.3,283.6 422.2,283.0C423.0,282.5 424.5,282.5 425.6,282.2C426.7,281.9 428.9,282.0 429.0,281.3C429.1,280.6 427.6,278.9 426.4,277.9C425.3,276.9 423.3,275.5 422.2,275.4C421.1,275.2 419.9,277.5 419.6,277.1C419.4,276.6 419.6,273.8 420.5,272.8C421.3,271.8 423.6,272.0 424.7,271.1C425.9,270.3 426.3,268.9 427.3,267.7C428.3,266.6 429.8,265.7 430.7,264.3C431.5,262.9 431.7,260.9 432.4,259.2C433.1,257.5 434.1,255.8 434.9,254.1C435.8,252.4 436.5,250.6 437.5,249.0C438.5,247.5 439.8,246.1 440.9,244.8C442.0,243.5 443.0,242.1 444.3,241.4C445.6,240.7 447.5,241.4 448.5,240.5C449.5,239.7 449.7,237.8 450.2,236.3C450.8,234.7 451.5,233.0 451.9,231.2C452.4,229.3 452.5,226.9 452.8,225.2C453.1,223.5 453.4,222.1 453.6,221.0C453.9,219.9 453.8,219.2 454.5,218.4ZM453.6,278.8C454.5,277.8 455.8,277.2 457.0,277.1C458.3,276.9 459.7,278.2 461.3,277.9C462.8,277.6 464.7,275.7 466.4,275.4C468.1,275.1 469.8,275.7 471.5,276.2C473.2,276.8 475.3,277.6 476.6,278.8C477.8,279.9 479.0,281.6 479.1,283.0C479.3,284.4 477.3,286.3 477.4,287.3C477.6,288.3 478.7,289.0 480.0,289.0C481.2,289.0 483.1,287.8 485.1,287.3C487.1,286.7 489.9,286.1 491.9,285.6C493.9,285.0 495.6,284.6 497.0,283.9C498.4,283.2 500.1,282.5 500.4,281.3C500.6,280.2 499.5,278.3 498.7,277.1C497.8,275.8 495.7,274.9 495.3,273.7C494.8,272.4 495.6,270.0 496.1,269.4C496.7,268.9 497.7,269.3 498.7,270.3C499.7,271.3 501.2,273.7 502.1,275.4C502.9,277.1 503.6,278.8 503.8,280.5C503.9,282.2 503.5,284.2 502.9,285.6C502.3,287.0 501.4,288.1 500.4,289.0C499.4,289.8 498.4,290.5 497.0,290.7C495.6,290.8 493.6,289.8 491.9,289.8C490.2,289.8 488.5,290.7 486.8,290.7C485.1,290.7 483.1,289.7 481.7,289.8C480.3,290.0 480.0,291.1 478.3,291.5C476.6,291.9 473.5,291.9 471.5,292.4C469.5,292.8 468.1,293.4 466.4,294.1C464.7,294.8 463.0,295.8 461.3,296.6C459.6,297.5 457.7,299.2 456.2,299.2C454.6,299.2 452.8,297.7 451.9,296.6C451.1,295.5 450.9,293.9 451.1,292.4C451.2,290.8 452.6,288.8 452.8,287.3C452.9,285.7 451.8,284.4 451.9,283.0C452.1,281.6 452.8,279.8 453.6,278.8ZM458.7,260.1C459.0,259.1 460.9,257.7 462.1,257.5C463.4,257.4 465.5,258.4 466.4,259.2C467.2,260.1 467.7,261.8 467.2,262.6C466.8,263.5 465.0,264.2 463.8,264.3C462.7,264.5 461.3,264.2 460.4,263.5C459.6,262.8 458.4,261.1 458.7,260.1ZM422.2,292.4C422.6,293.1 423.6,295.3 424.7,296.6C425.9,297.9 427.4,299.2 429.0,300.0C430.6,300.9 432.1,301.4 434.1,301.7C436.1,302.0 438.6,301.9 440.9,301.7C443.2,301.6 445.4,301.1 447.7,300.9C450.0,300.6 452.2,300.0 454.5,300.0C456.7,300.0 460.7,300.3 461.3,300.9C461.8,301.4 459.3,302.6 457.9,303.4C456.5,304.3 454.5,305.3 452.8,306.0C451.1,306.7 449.4,307.5 447.7,307.7C446.0,307.8 444.3,306.7 442.6,306.8C440.9,307.0 438.9,307.8 437.5,308.5C436.1,309.2 435.5,310.8 434.1,311.1C432.7,311.3 430.6,311.1 429.0,310.2C427.4,309.4 426.0,307.0 424.7,306.0C423.5,305.0 422.2,304.0 421.3,304.3C420.5,304.5 419.8,306.2 419.6,307.7C419.5,309.1 419.6,311.6 420.5,312.8C421.3,313.9 423.3,314.3 424.7,314.5C426.2,314.6 428.3,313.7 429.0,313.6M507.0,232.0C506.5,232.5 504.6,233.3 503.8,234.6C502.9,235.9 502.2,237.7 502.1,239.7C501.9,241.7 502.5,244.2 502.9,246.5C503.3,248.7 503.9,251.6 504.6,253.3C505.3,255.0 506.6,256.1 507.0,256.7M113.6,496.8C114.4,496.7 116.7,496.1 118.7,496.0C120.7,495.8 123.2,496.1 125.5,496.0C127.8,495.8 130.0,495.5 132.3,495.1C134.6,494.7 136.8,494.0 139.1,493.4C141.4,492.9 143.6,492.2 145.9,491.7C148.1,491.3 150.4,491.1 152.7,490.9C154.9,490.7 157.5,490.3 159.5,490.5C161.5,490.8 162.9,491.7 164.6,492.6C166.3,493.5 168.0,494.8 169.7,496.0C171.4,497.1 173.1,498.2 174.8,499.4C176.5,500.5 178.2,502.2 179.9,502.8C181.6,503.3 183.4,502.3 185.0,502.8C186.5,503.2 187.9,504.5 189.2,505.3C190.5,506.2 192.2,506.9 192.6,507.9C193.0,508.9 191.3,510.4 191.8,511.3C192.2,512.1 193.7,512.4 195.2,513.0C196.6,513.5 198.8,514.1 200.3,514.7C201.7,515.2 202.6,516.3 204.0,516.4C205.4,516.4 207.1,515.6 208.8,515.0C210.4,514.4 213.0,513.3 213.9,513.0M113.6,496.8C114.0,497.2 116.0,498.5 116.1,499.4C116.3,500.2 114.3,501.2 114.4,501.9C114.6,502.6 115.9,503.5 117.0,503.6C118.1,503.8 120.0,502.8 121.2,502.8C122.5,502.8 124.2,503.2 124.6,503.6C125.1,504.0 124.5,505.0 123.8,505.3C123.1,505.7 121.5,505.8 120.4,505.8C119.3,505.8 118.0,505.2 117.0,505.3C116.0,505.4 114.6,505.9 114.4,506.5C114.3,507.1 116.1,507.9 116.1,508.7C116.1,509.5 114.3,510.7 114.4,511.3C114.6,511.8 115.9,511.8 117.0,512.1C118.1,512.4 120.0,512.4 121.2,513.0C122.5,513.5 123.8,514.4 124.6,515.5C125.5,516.6 125.9,518.3 126.3,519.8C126.8,521.2 126.3,523.0 127.2,524.0C128.0,525.0 130.2,525.9 131.4,525.7C132.7,525.6 133.9,523.7 134.8,523.2C135.8,522.6 136.6,521.9 137.0,522.3C137.5,522.7 138.0,524.6 137.7,525.7C137.5,526.8 136.3,527.8 135.7,529.1C135.1,530.4 134.6,531.9 134.0,533.4C133.4,534.8 132.6,536.9 132.3,537.6M125.5,528.3C124.9,528.8 123.5,530.4 122.1,531.7C120.7,532.9 118.1,534.9 117.0,535.9C115.9,536.9 115.6,537.3 115.3,537.6M376.0,428.0C377.2,427.6 380.7,426.2 383.0,425.5C385.3,424.8 387.2,424.4 390.0,423.5C392.8,422.6 397.0,421.1 400.0,420.0C403.0,418.9 406.0,418.2 408.0,417.0C410.0,415.8 411.2,414.7 412.0,413.0C412.8,411.3 412.3,409.2 413.0,407.0C413.7,404.8 415.0,402.2 416.0,400.0C417.0,397.8 417.7,395.7 419.0,394.0C420.3,392.3 422.5,391.5 424.0,390.0C425.5,388.5 426.8,386.7 428.0,385.0C429.2,383.3 429.7,381.5 431.0,380.0C432.3,378.5 435.2,376.7 436.0,376.0" stroke="#000" stroke-width="0.85" stroke-linejoin="round"/>
</g>
<rect x="99.85" y="92.5" width="407.05" height="444.10" fill="none" stroke="#222" stroke-width="1.5"/>
<line x1="88.3" y1="105.8" x2="99.85" y2="105.8" stroke="#333" stroke-width="1.5"/>
<text x="78.2" y="111.5" text-anchor="end" font-size="15.7">45°E</text>
<line x1="88.3" y1="189.8" x2="99.85" y2="189.8" stroke="#333" stroke-width="1.5"/>
<text x="78.2" y="195.5" text-anchor="end" font-size="15.7">60°E</text>
<line x1="88.3" y1="251.4" x2="99.85" y2="251.4" stroke="#333" stroke-width="1.5"/>
<text x="78.2" y="257.1" text-anchor="end" font-size="15.7">75°E</text>
<line x1="88.3" y1="305.4" x2="99.85" y2="305.4" stroke="#333" stroke-width="1.5"/>
<text x="78.2" y="311.09999999999997" text-anchor="end" font-size="15.7">90°E</text>
<line x1="88.3" y1="359.7" x2="99.85" y2="359.7" stroke="#333" stroke-width="1.5"/>
<text x="78.2" y="365.4" text-anchor="end" font-size="15.7">105°E</text>
<line x1="88.3" y1="423.4" x2="99.85" y2="423.4" stroke="#333" stroke-width="1.5"/>
<text x="78.2" y="429.09999999999997" text-anchor="end" font-size="15.7">120°E</text>
<line x1="88.3" y1="510.6" x2="99.85" y2="510.6" stroke="#333" stroke-width="1.5"/>
<text x="78.2" y="516.3000000000001" text-anchor="end" font-size="15.7">135°E</text>
<line x1="506.9" y1="92.5" x2="518.9" y2="92.5" stroke="#333" stroke-width="1.5"/>
<text x="529" y="98.2" font-size="15.7">45°W</text>
<line x1="506.9" y1="181.1" x2="518.9" y2="181.1" stroke="#333" stroke-width="1.5"/>
<text x="529" y="186.79999999999998" font-size="15.7">60°W</text>
<line x1="506.9" y1="245.8" x2="518.9" y2="245.8" stroke="#333" stroke-width="1.5"/>
<text x="529" y="251.5" font-size="15.7">75°W</text>
<line x1="506.9" y1="301.3" x2="518.9" y2="301.3" stroke="#333" stroke-width="1.5"/>
<text x="529" y="307.0" font-size="15.7">90°W</text>
<line x1="506.9" y1="356.3" x2="518.9" y2="356.3" stroke="#333" stroke-width="1.5"/>
<text x="529" y="362.0" font-size="15.7">105°W</text>
<line x1="506.9" y1="420.2" x2="518.9" y2="420.2" stroke="#333" stroke-width="1.5"/>
<text x="529" y="425.9" font-size="15.7">120°W</text>
<line x1="506.9" y1="507.2" x2="518.9" y2="507.2" stroke="#333" stroke-width="1.5"/>
<text x="529" y="512.9" font-size="15.7">135°W</text>
<text x="172.4" y="89.6" font-size="11" font-weight="bold" textLength="339" lengthAdjust="spacingAndGlyphs">September Moisture Heat Flux (kg m<tspan font-size="7" dy="-4.5">-2</tspan><tspan dy="4.5">s</tspan><tspan font-size="7" dy="-4.5">-1</tspan><tspan dy="4.5">) WRF-Interim Bias</tspan></text>
<text x="233" y="603" font-size="15">Bias (kg m<tspan font-size="8.5" dy="-6.5">-2</tspan><tspan dy="6.5">s</tspan><tspan font-size="8.5" dy="-6.5">-1</tspan><tspan dy="6.5">) </tspan><tspan font-size="20" dy="1">×</tspan><tspan dy="-1"> 10</tspan><tspan font-size="8.5" dy="-6.5">4</tspan></text>
<rect x="134.70" y="626.1" width="28.44" height="23.5" fill="#FFF200"/>
<rect x="162.84" y="626.1" width="28.44" height="23.5" fill="#FFDA08"/>
<rect x="190.98" y="626.1" width="28.44" height="23.5" fill="#FFC20A"/>
<rect x="219.12" y="626.1" width="28.44" height="23.5" fill="#FFAA10"/>
<rect x="247.25" y="626.1" width="28.44" height="23.5" fill="#FF9212"/>
<rect x="275.39" y="626.1" width="28.44" height="23.5" fill="#FF7A14"/>
<rect x="303.53" y="626.1" width="28.44" height="23.5" fill="#FF4E18"/>
<rect x="331.67" y="626.1" width="28.44" height="23.5" fill="#FF3218"/>
<rect x="359.81" y="626.1" width="28.44" height="23.5" fill="#FF1A1C"/>
<rect x="387.95" y="626.1" width="28.44" height="23.5" fill="#FF0A14"/>
<rect x="416.08" y="626.1" width="28.44" height="23.5" fill="#F50F28"/>
<rect x="444.22" y="626.1" width="28.44" height="23.5" fill="#E81850"/>
<rect x="472.36" y="626.1" width="28.44" height="23.5" fill="#CC2090"/>
<text transform="translate(139.70,661) rotate(-90)" text-anchor="end" font-size="14.5">0.15</text>
<text transform="translate(167.84,661) rotate(-90)" text-anchor="end" font-size="14.5">0.45</text>
<text transform="translate(195.98,661) rotate(-90)" text-anchor="end" font-size="14.5">0.75</text>
<text transform="translate(224.12,661) rotate(-90)" text-anchor="end" font-size="14.5">1</text>
<text transform="translate(252.25,661) rotate(-90)" text-anchor="end" font-size="14.5">1.5</text>
<text transform="translate(280.39,661) rotate(-90)" text-anchor="end" font-size="14.5">2</text>
<text transform="translate(308.53,661) rotate(-90)" text-anchor="end" font-size="14.5">2.5</text>
<text transform="translate(336.67,661) rotate(-90)" text-anchor="end" font-size="14.5">3</text>
<text transform="translate(364.81,661) rotate(-90)" text-anchor="end" font-size="14.5">3.5</text>
<text transform="translate(392.95,661) rotate(-90)" text-anchor="end" font-size="14.5">4</text>
<text transform="translate(421.08,661) rotate(-90)" text-anchor="end" font-size="14.5">4.5</text>
<text transform="translate(449.22,661) rotate(-90)" text-anchor="end" font-size="14.5">5</text>
<text transform="translate(477.36,661) rotate(-90)" text-anchor="end" font-size="14.5">5.5</text>
</svg>
</body></html>
